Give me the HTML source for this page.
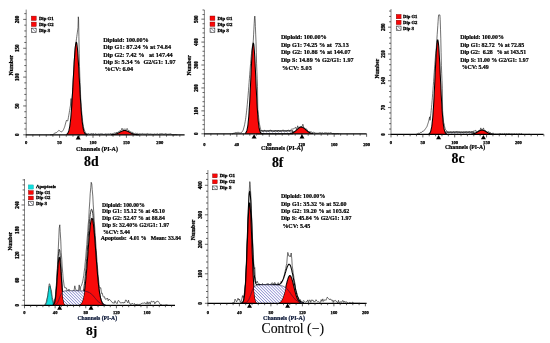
<!DOCTYPE html>
<html><head><meta charset="utf-8"><title>Cell cycle histograms</title>
<style>html,body{margin:0;padding:0;background:#fff;}svg{display:block;filter:blur(0.2px);}text{font-family:"Liberation Serif",serif;}</style></head>
<body>
<svg width="550" height="343" viewBox="0 0 550 343">
<defs><pattern id="hat" width="2.1" height="2.1" patternUnits="userSpaceOnUse" patternTransform="rotate(-45)"><rect width="2.1" height="2.1" fill="#fff"/><rect width="0.6" height="2.1" fill="#6a6ac4"/></pattern><pattern id="hatl" width="2.1" height="2.1" patternUnits="userSpaceOnUse" patternTransform="rotate(-45)"><rect width="2.1" height="2.1" fill="#fff"/><rect width="0.45" height="2.1" fill="#99b"/></pattern><pattern id="hatg" width="2.3" height="2.3" patternUnits="userSpaceOnUse" patternTransform="rotate(-45)"><rect width="2.3" height="2.3" fill="#fff"/><rect width="0.55" height="2.3" fill="#667"/></pattern></defs>
<rect width="550" height="343" fill="#fff"/>
<g>
<path d="M82 134.8 H118 V133.8 H82Z" fill="url(#hatl)"/>
<path d="M50 134.8 50.8 134.8 51.5 134.7 52.2 134.8 53 134.8 53.8 133.6 54.5 133.3 55.2 132.7 56 133.2 56.8 132.2 57 132 57.3 131.9 57.6 131.6 57.9 131.3 58.2 130.9 58.5 130.6 58.8 130.3 59.1 130.4 59.4 130.6 59.7 130.8 60 131.1 60.3 131.3 60.6 131.5 60.9 131.6 61.2 131.7 61.5 131.9 61.8 131.9 62.1 131.5 62.4 131.2 62.7 130.8 63 130.4 63.3 130 63.6 129.4 63.9 128.7 64.2 127.9 64.5 127.2 64.8 126.3 65.1 125.2 65.4 124.1 65.7 123 66 121.9 66.3 120.9 66.6 120.1 66.9 120.4 67.2 120.8 67.5 121.1 67.8 120.6 68.1 119.1 68.4 117.5 68.7 115.8 69 114.1 69.3 112.3 69.6 110.5 69.9 108.7 70.2 106.9 70.5 105.1 70.8 101.9 71.1 98.5 71.4 110 71.7 105.9 72 101.3 72.3 96.5 72.6 91.4 72.9 86 73.2 80.5 73.5 75 73.8 69.6 74.1 64.3 74.4 59.4 74.7 54.9 75 50.9 75.3 47.6 75.6 45.1 75.9 43.3 76.2 40.9 76.5 38.7 76.8 36.5 77.1 34.3 77.4 32.1 77.7 29.9 78 27.7 78.3 16.8 78.6 19.4 78.9 36.6 79.2 53.3 79.5 66.3 79.8 76.1 80.1 82.7 80.4 89.3 80.7 98.1 81 102.6 81.3 106.8 81.6 110.7 81.9 114.2 82.2 117.4 82.5 120.2 82.8 122.7 83.1 124.8 83.4 126.6 83.7 128.2 84 128.6 84.3 129.7 84.6 130.6 84.9 131.3 85.2 131.9 85.5 132.4 86.3 133.6 87 133.9 87.8 133.8 88.5 133.5 89.3 134.2 90 134.1 90.8 133.8 91.5 133.5 92.3 133.8 93 134 93.8 133.5 94.5 134.3 95.3 133.6 96 134.1 96.8 134.2 97.5 134.2 98.3 134.1 99 133.6 99.8 134.2 100.5 133.8 101.3 133.8 102 134 102.8 133.9 103.5 134.3 104.3 134.3 105 134.2 105.8 133.7 106.5 134 107.3 134.1 108 133.8 108.8 133.9 109.5 134 110.3 133.6 111 133.6 111.8 134 112.5 133.6 113.3 133.5 114 133 114.8 133 115.5 133.3 116.3 132.2 117 133 117.8 132.1 118.1 132 118.4 131.8 118.7 131.6 119 131.5 119.3 131.3 119.6 131.1 119.9 130.9 120.2 130.8 120.5 130.6 120.8 130.4 121.1 130.3 121.4 130.1 121.7 129.2 122 128.2 122.3 128.9 122.6 129.6 122.9 129.5 123.2 129.4 123.5 129.3 123.8 129.3 124.1 129.2 124.4 129.2 124.7 129.2 125 129.2 125.3 129.2 125.6 129.3 125.9 129.4 126.2 129.4 126.5 129.5 126.8 129.1 127.1 128.4 127.4 128.8 127.7 129.8 128 130.2 128.3 130.4 128.6 130.5 128.9 130.7 129.2 130.9 129.5 131 129.8 131.2 130.1 131.4 130.4 131.6 130.7 131.7 131 131.9 131.3 132.1 131.6 132.3 132.3 132.2 133.1 133.3 133.8 133.1 134.6 133.8 135.3 133.3 136.1 133.3 136.8 133.6 137.6 133.4 138.3 134 139.1 133.7 139.8 133.8 140.6 133.8 141.3 133.9 142.1 133.6 142.8 133.5 143.6 133.9 144.3 133.8 145.1 134.3 145.8 133.7 146.6 133.8 147.3 133.5 148.1 133.6 148.8 134.1 149.6 134 150.3 133.8 151.1 134.3 151.8 133.9 152.6 134.2 153.3 134.2 154.1 134.3 154.8 133.7 155.6 134.2 156.3 134.1 157.1 134 157.8 133.6 158.6 134.3 159.3 133.9 160.1 133.9 160.8 133.6 161.6 133.6 162.3 133.6 163.1 134.1 163.8 134 164.6 134 165.3 133.6 166.1 133.5 166.8 134.2 167.6 134.2 168.3 134.1 169.1 134.1 169.8 133.9 170.6 133.8 171.3 134.1 172.1 134.8 172.8 134.8 173.6 134.8 174.3 134.8 175.1 134.5 175.8 134.7 176.6 134.8 177.3 134.7" fill="none" stroke="#111" stroke-width="0.6" stroke-linejoin="round"/>
<path d="M66.5 134.8 66.5 134.4 66.8 134.2 67 134 67.2 133.8 67.5 133.5 67.8 133.2 68 132.8 68.2 132.3 68.5 131.7 68.8 130.9 69 130 69.2 129 69.5 127.7 69.8 126.3 70 124.6 70.2 122.7 70.5 120.5 70.8 118.1 71 115.4 71.2 112.4 71.5 109.1 71.8 105.5 72 101.7 72.2 97.6 72.5 93.3 72.8 88.9 73 84.3 73.2 79.6 73.5 75 73.8 70.3 74 65.9 74.2 61.6 74.5 57.5 74.8 53.9 75 50.6 75.2 47.8 75.5 45.5 75.8 43.8 76 42.8 76.2 42.3 76.5 42.5 76.8 43.3 77 44.8 77.2 46.8 77.5 49.4 77.8 52.5 78 56 78.2 59.9 78.5 64.1 78.8 68.5 79 73.1 79.2 77.8 79.5 82.4 79.8 87.1 80 91.6 80.2 95.9 80.5 100.1 80.8 104 81 107.7 81.2 111.1 81.5 114.2 81.8 117 82 119.6 82.2 121.9 82.5 123.9 82.8 125.6 83 127.2 83.2 128.5 83.5 129.6 83.8 130.6 84 131.4 84.2 132 84.5 132.6 84.8 133 85 133.4 85.2 133.7 85.5 134 85.8 134.2 86 134.3 86.2 134.4 86.5 134.5 86.8 134.6 87 134.6 87.2 134.7 87.5 134.7 87.5 134.8Z" fill="#f80a0a" stroke="none"/>
<path d="M66.5 134.4 66.8 134.2 67 134 67.2 133.8 67.5 133.5 67.8 133.2 68 132.8 68.2 132.3 68.5 131.7 68.8 130.9 69 130 69.2 129 69.5 127.7 69.8 126.3 70 124.6 70.2 122.7 70.5 120.5 70.8 118.1 71 115.4 71.2 112.4 71.5 109.1 71.8 105.5 72 101.7 72.2 97.6 72.5 93.3 72.8 88.9 73 84.3 73.2 79.6 73.5 75 73.8 70.3 74 65.9 74.2 61.6 74.5 57.5 74.8 53.9 75 50.6 75.2 47.8 75.5 45.5 75.8 43.8 76 42.8 76.2 42.3 76.5 42.5 76.8 43.3 77 44.8 77.2 46.8 77.5 49.4 77.8 52.5 78 56 78.2 59.9 78.5 64.1 78.8 68.5 79 73.1 79.2 77.8 79.5 82.4 79.8 87.1 80 91.6 80.2 95.9 80.5 100.1 80.8 104 81 107.7 81.2 111.1 81.5 114.2 81.8 117 82 119.6 82.2 121.9 82.5 123.9 82.8 125.6 83 127.2 83.2 128.5 83.5 129.6 83.8 130.6 84 131.4 84.2 132 84.5 132.6 84.8 133 85 133.4 85.2 133.7 85.5 134 85.8 134.2 86 134.3 86.2 134.4 86.5 134.5 86.8 134.6 87 134.6 87.2 134.7 87.5 134.7" fill="none" stroke="#000" stroke-width="1.05" stroke-linejoin="round"/>
<path d="M111 134.8 111 134.7 111.2 134.7 111.5 134.7 111.8 134.7 112 134.7 112.2 134.6 112.5 134.6 112.8 134.6 113 134.6 113.2 134.5 113.5 134.5 113.8 134.5 114 134.4 114.2 134.4 114.5 134.3 114.8 134.3 115 134.2 115.2 134.2 115.5 134.1 115.8 134 116 133.9 116.2 133.9 116.5 133.8 116.8 133.7 117 133.6 117.2 133.5 117.5 133.4 117.8 133.2 118 133.1 118.2 133 118.5 132.9 118.8 132.8 119 132.6 119.2 132.5 119.5 132.4 119.8 132.2 120 132.1 120.2 131.9 120.5 131.8 120.8 131.7 121 131.6 121.2 131.4 121.5 131.3 121.8 131.2 122 131.1 122.2 131 122.5 130.9 122.8 130.8 123 130.7 123.2 130.7 123.5 130.6 123.8 130.6 124 130.5 124.2 130.5 124.5 130.5 124.8 130.5 125 130.5 125.2 130.5 125.5 130.6 125.8 130.6 126 130.7 126.2 130.7 126.5 130.8 126.8 130.9 127 131 127.2 131.1 127.5 131.2 127.8 131.3 128 131.5 128.2 131.6 128.5 131.7 128.8 131.8 129 132 129.2 132.1 129.5 132.2 129.8 132.4 130 132.5 130.2 132.6 130.5 132.8 130.8 132.9 131 133 131.2 133.2 131.5 133.3 131.8 133.4 132 133.5 132.2 133.6 132.5 133.7 132.8 133.8 133 133.9 133.2 134 133.5 134 133.8 134.1 134 134.2 134.2 134.2 134.5 134.3 134.8 134.3 135 134.4 135.2 134.4 135.5 134.5 135.8 134.5 136 134.5 136.2 134.6 136.5 134.6 136.8 134.6 137 134.6 137.2 134.7 137.5 134.7 137.8 134.7 138 134.7 138.2 134.7 138.5 134.7 138.8 134.7 139 134.8 139 134.8Z" fill="#f80a0a" stroke="none"/>
<path d="M111 134.7 111.2 134.7 111.5 134.7 111.8 134.7 112 134.7 112.2 134.6 112.5 134.6 112.8 134.6 113 134.6 113.2 134.5 113.5 134.5 113.8 134.5 114 134.4 114.2 134.4 114.5 134.3 114.8 134.3 115 134.2 115.2 134.2 115.5 134.1 115.8 134 116 133.9 116.2 133.9 116.5 133.8 116.8 133.7 117 133.6 117.2 133.5 117.5 133.4 117.8 133.2 118 133.1 118.2 133 118.5 132.9 118.8 132.8 119 132.6 119.2 132.5 119.5 132.4 119.8 132.2 120 132.1 120.2 131.9 120.5 131.8 120.8 131.7 121 131.6 121.2 131.4 121.5 131.3 121.8 131.2 122 131.1 122.2 131 122.5 130.9 122.8 130.8 123 130.7 123.2 130.7 123.5 130.6 123.8 130.6 124 130.5 124.2 130.5 124.5 130.5 124.8 130.5 125 130.5 125.2 130.5 125.5 130.6 125.8 130.6 126 130.7 126.2 130.7 126.5 130.8 126.8 130.9 127 131 127.2 131.1 127.5 131.2 127.8 131.3 128 131.5 128.2 131.6 128.5 131.7 128.8 131.8 129 132 129.2 132.1 129.5 132.2 129.8 132.4 130 132.5 130.2 132.6 130.5 132.8 130.8 132.9 131 133 131.2 133.2 131.5 133.3 131.8 133.4 132 133.5 132.2 133.6 132.5 133.7 132.8 133.8 133 133.9 133.2 134 133.5 134 133.8 134.1 134 134.2 134.2 134.2 134.5 134.3 134.8 134.3 135 134.4 135.2 134.4 135.5 134.5 135.8 134.5 136 134.5 136.2 134.6 136.5 134.6 136.8 134.6 137 134.6 137.2 134.7 137.5 134.7 137.8 134.7 138 134.7 138.2 134.7 138.5 134.7 138.8 134.7 139 134.8" fill="none" stroke="#000" stroke-width="1.05" stroke-linejoin="round"/>
<path d="M26.2 9.6V134.8" fill="none" stroke="#666" stroke-width="0.8"/>
<path d="M25.8 134.8H184.6" fill="none" stroke="#000" stroke-width="1.25"/>
<text x="26.2" y="144.1" font-size="4.6" font-family="Liberation Serif, serif" font-weight="bold" text-anchor="middle" fill="#000" stroke="#000" stroke-width="0.25" xml:space="preserve">0</text>
<text x="59.6" y="144.1" font-size="4.6" font-family="Liberation Serif, serif" font-weight="bold" text-anchor="middle" fill="#000" stroke="#000" stroke-width="0.25" xml:space="preserve">50</text>
<text x="93" y="144.1" font-size="4.6" font-family="Liberation Serif, serif" font-weight="bold" text-anchor="middle" fill="#000" stroke="#000" stroke-width="0.25" xml:space="preserve">100</text>
<text x="126.4" y="144.1" font-size="4.6" font-family="Liberation Serif, serif" font-weight="bold" text-anchor="middle" fill="#000" stroke="#000" stroke-width="0.25" xml:space="preserve">150</text>
<text x="159.8" y="144.1" font-size="4.6" font-family="Liberation Serif, serif" font-weight="bold" text-anchor="middle" fill="#000" stroke="#000" stroke-width="0.25" xml:space="preserve">200</text>
<text x="18.7" y="134.8" font-size="5.1" font-family="Liberation Serif, serif" font-weight="bold" text-anchor="middle" fill="#000" transform="rotate(-90 18.7 134.8)" stroke="#000" stroke-width="0.3" xml:space="preserve">0</text>
<text x="18.7" y="105.95" font-size="5.1" font-family="Liberation Serif, serif" font-weight="bold" text-anchor="middle" fill="#000" transform="rotate(-90 18.7 105.95)" stroke="#000" stroke-width="0.3" xml:space="preserve">50</text>
<text x="18.7" y="77.1" font-size="5.1" font-family="Liberation Serif, serif" font-weight="bold" text-anchor="middle" fill="#000" transform="rotate(-90 18.7 77.1)" stroke="#000" stroke-width="0.3" xml:space="preserve">100</text>
<text x="18.7" y="48.25" font-size="5.1" font-family="Liberation Serif, serif" font-weight="bold" text-anchor="middle" fill="#000" transform="rotate(-90 18.7 48.25)" stroke="#000" stroke-width="0.3" xml:space="preserve">150</text>
<text x="18.7" y="19.4" font-size="5.1" font-family="Liberation Serif, serif" font-weight="bold" text-anchor="middle" fill="#000" transform="rotate(-90 18.7 19.4)" stroke="#000" stroke-width="0.3" xml:space="preserve">200</text>
<path d="M26.2 134.8v3M32.88 134.8v1.9M39.56 134.8v1.9M46.24 134.8v1.9M52.92 134.8v1.9M59.6 134.8v3M66.28 134.8v1.9M72.96 134.8v1.9M79.64 134.8v1.9M86.32 134.8v1.9M93 134.8v3M99.68 134.8v1.9M106.36 134.8v1.9M113.04 134.8v1.9M119.72 134.8v1.9M126.4 134.8v3M133.08 134.8v1.9M139.76 134.8v1.9M146.44 134.8v1.9M153.12 134.8v1.9M159.8 134.8v3M166.48 134.8v1.9M173.16 134.8v1.9M179.84 134.8v1.9M26.2 134.8h-3M26.2 129.03h-1.9M26.2 123.26h-1.9M26.2 117.49h-1.9M26.2 111.72h-1.9M26.2 105.95h-3M26.2 100.18h-1.9M26.2 94.41h-1.9M26.2 88.64h-1.9M26.2 82.87h-1.9M26.2 77.1h-3M26.2 71.33h-1.9M26.2 65.56h-1.9M26.2 59.79h-1.9M26.2 54.02h-1.9M26.2 48.25h-3M26.2 42.48h-1.9M26.2 36.71h-1.9M26.2 30.94h-1.9M26.2 25.17h-1.9M26.2 19.4h-3M26.2 13.63h-1.9" fill="none" stroke="#222" stroke-width="0.7"/>
<text x="12.7" y="65.2" font-size="5.8" font-family="Liberation Serif, serif" font-weight="bold" text-anchor="middle" fill="#000" transform="rotate(-90 12.7 65.2)" stroke="#000" stroke-width="0.25" xml:space="preserve">Number</text>
<text x="97" y="150.8" font-size="6" font-family="Liberation Serif, serif" font-weight="bold" text-anchor="middle" fill="#000" stroke="#000" stroke-width="0.22" xml:space="preserve">Channels (PI-A)</text>
<rect x="31.3" y="16.1" width="4.9" height="4.4" fill="#fb0606" stroke="#700" stroke-width="0.4"/>
<text x="38.9" y="19.95" font-size="4.8" font-family="Liberation Serif, serif" font-weight="bold" text-anchor="start" fill="#000" stroke="#000" stroke-width="0.3" xml:space="preserve">Dip G1</text>
<rect x="31.3" y="22.1" width="4.9" height="4.4" fill="#fb0606" stroke="#700" stroke-width="0.4"/>
<text x="38.9" y="25.95" font-size="4.8" font-family="Liberation Serif, serif" font-weight="bold" text-anchor="start" fill="#000" stroke="#000" stroke-width="0.3" xml:space="preserve">Dip G2</text>
<rect x="31.35" y="28.15" width="4.8" height="4.3" fill="url(#hatg)" stroke="#222" stroke-width="0.55"/>
<text x="38.9" y="31.95" font-size="4.8" font-family="Liberation Serif, serif" font-weight="bold" text-anchor="start" fill="#000" stroke="#000" stroke-width="0.3" xml:space="preserve">Dip S</text>
<text x="103.2" y="42.18" font-size="6.2" font-family="Liberation Serif, serif" font-weight="bold" text-anchor="start" fill="#000" textLength="45.5" lengthAdjust="spacing" stroke="#000" stroke-width="0.2" xml:space="preserve">Diploid: 100.00%</text>
<text x="103.2" y="49.45" font-size="6.2" font-family="Liberation Serif, serif" font-weight="bold" text-anchor="start" fill="#000" textLength="67.8" lengthAdjust="spacing" stroke="#000" stroke-width="0.2" xml:space="preserve">Dip G1: 87.24 % at 74.84</text>
<text x="103.2" y="56.72" font-size="6.2" font-family="Liberation Serif, serif" font-weight="bold" text-anchor="start" fill="#000" textLength="69.5" lengthAdjust="spacing" stroke="#000" stroke-width="0.2" xml:space="preserve">Dip G2: 7.42 %   at 147.44</text>
<text x="103.2" y="63.99" font-size="6.2" font-family="Liberation Serif, serif" font-weight="bold" text-anchor="start" fill="#000" textLength="72.4" lengthAdjust="spacing" stroke="#000" stroke-width="0.2" xml:space="preserve">Dip S: 5.34 %  G2/G1: 1.97</text>
<text x="104.4" y="71.26" font-size="6.2" font-family="Liberation Serif, serif" font-weight="bold" text-anchor="start" fill="#000" textLength="28.8" lengthAdjust="spacing" stroke="#000" stroke-width="0.2" xml:space="preserve">%CV: 6.04</text>
<path d="M78.2 135.1l-2.5 4.3h5z" fill="#000"/>
<text x="91.4" y="166" font-size="13.8" font-family="Liberation Serif, serif" font-weight="bold" text-anchor="middle" fill="#000" stroke="#000" stroke-width="0.15" xml:space="preserve">8d</text>
<path d="M257 133.8 H293 V130.9 H257Z" fill="url(#hatl)" stroke="#000" stroke-width="0.9"/>
<path d="M232 133.7 232.8 133.8 233.5 133.3 234.2 133.2 235 132.8 235.8 132.4 236.5 132.5 237.2 132.3 238 132.6 238.8 132.2 239.5 132.9 240.2 133 241 132.7 241.8 132.3 242.5 131.2 243.2 130.1 244 127.1 244.3 126 244.6 124.6 244.9 123.1 245.2 121.5 245.5 119.6 245.8 117.6 246.1 115.3 246.4 112.9 246.7 110.2 247 107.3 247.3 104.3 247.6 101 247.9 97.6 248.2 94 248.5 90.3 248.8 86.4 249.1 82.5 249.4 78.6 249.7 74.7 250 70.8 250.3 67 250.6 63.3 250.9 59.8 251.2 56.5 251.5 53.5 251.8 50.8 252.1 48.4 252.4 46.4 252.7 44.9 253 43.7 253.3 40.4 253.6 34.8 253.9 29.2 254.2 23.6 254.5 18 254.8 16.1 255.1 18.7 255.4 26.4 255.7 34.1 256 41.8 256.3 52.8 256.6 63.8 256.9 71.3 257.2 78.8 257.5 86.3 257.8 109.6 258.1 110.9 258.4 114.7 258.7 117.9 259 120.6 259.3 122.9 259.6 124.7 259.9 126.2 260.2 127.3 260.5 128.3 260.8 129.7 261.6 130.6 262.3 131.1 263.1 130.9 263.8 131.5 264.6 130.2 265.3 130.6 266.1 131.4 266.8 131.2 267.6 131 268.3 131 269.1 131.4 269.8 130.2 270.6 130 271.3 130.9 272.1 130.8 272.8 131.5 273.6 131.4 274.3 131.1 275.1 131.2 275.8 130.3 276.6 131.3 277.3 131.6 278.1 130.1 278.8 130.8 279.6 131.4 280.3 130.7 281.1 131.6 281.8 130.8 282.6 130 283.3 130.2 284.1 130.5 284.8 131.2 285.6 131 286.3 131.3 287.1 130.3 287.8 130.6 288.6 130.2 289.3 130.8 290.1 130.8 290.8 129.7 291.6 129.2 292.3 129.1 293.1 128.8 293.8 128.8 294.1 128.6 294.4 128.3 294.7 128.1 295 127.9 295.3 127.6 295.6 127.3 295.9 127.1 296.2 129.3 297 128.7 297.7 125.8 298 126.7 298.3 127.6 298.6 127.7 298.9 127.5 299.2 127.3 299.5 127.1 299.8 127 300.1 126.8 300.4 126.7 300.7 126.7 301 126.6 301.3 126.6 301.6 126.6 301.9 126.7 302.2 126.3 302.5 125.2 302.8 124.2 303.1 124.7 303.4 126.1 303.7 127.5 304 127.7 304.3 127.9 304.6 128.2 304.9 128.4 305.2 128.7 305.5 129.4 306.3 128.8 307 129.8 307.8 130.9 308.5 131.5 309.3 131.6 310 132 310.8 131.8 311.5 131.8 312.3 132.6 313 132.3 313.8 132.3 314.5 132.5 315.3 133 316 133.2 316.8 133.2 317.5 133.2 318.3 133.2 319 132.9 319.8 132.7 320.5 132.7 321.3 133 322 132.9 322.8 132.7 323.5 133.3 324.3 132.9 325 132.7 325.8 132.8 326.5 132.8 327.3 133 328 133.3 328.8 132.8 329.5 133.1 330.3 132.7 331 132.6 331.8 133.1 332.5 133.8 333.3 133.5 334 133.7 334.8 133.8 335.5 133.8 336.3 133.8 337 133.6 337.8 133.6 338.5 133.8 339.3 133.6" fill="none" stroke="#111" stroke-width="0.6" stroke-linejoin="round"/>
<path d="M245 133.8 245 133.4 245.2 133.3 245.5 133.1 245.8 132.9 246 132.5 246.2 132.1 246.5 131.6 246.8 130.9 247 130 247.2 128.9 247.5 127.6 247.8 126.1 248 124.2 248.2 122 248.5 119.4 248.8 116.5 249 113.1 249.2 109.4 249.5 105.2 249.8 100.7 250 95.8 250.2 90.7 250.5 85.3 250.8 79.8 251 74.3 251.2 68.9 251.5 63.7 251.8 58.9 252 54.5 252.2 50.7 252.5 47.5 252.8 45.2 253 43.7 253.2 43 253.5 43.3 253.8 44.5 254 46.5 254.2 49.3 254.5 52.9 254.8 57.1 255 61.7 255.2 66.8 255.5 72.2 255.8 77.6 256 83.1 256.2 88.5 256.5 93.8 256.8 98.8 257 103.4 257.2 107.7 257.5 111.7 257.8 115.2 258 118.3 258.2 121 258.5 123.4 258.8 125.4 259 127.1 259.2 128.5 259.5 129.6 259.8 130.5 260 131.3 260.2 131.9 260.5 132.4 260.8 132.7 261 133 261.2 133.2 261.5 133.4 261.8 133.5 262 133.6 262.2 133.7 262.5 133.7 262.8 133.7 263 133.8 263 133.8Z" fill="#f80a0a" stroke="none"/>
<path d="M245 133.4 245.2 133.3 245.5 133.1 245.8 132.9 246 132.5 246.2 132.1 246.5 131.6 246.8 130.9 247 130 247.2 128.9 247.5 127.6 247.8 126.1 248 124.2 248.2 122 248.5 119.4 248.8 116.5 249 113.1 249.2 109.4 249.5 105.2 249.8 100.7 250 95.8 250.2 90.7 250.5 85.3 250.8 79.8 251 74.3 251.2 68.9 251.5 63.7 251.8 58.9 252 54.5 252.2 50.7 252.5 47.5 252.8 45.2 253 43.7 253.2 43 253.5 43.3 253.8 44.5 254 46.5 254.2 49.3 254.5 52.9 254.8 57.1 255 61.7 255.2 66.8 255.5 72.2 255.8 77.6 256 83.1 256.2 88.5 256.5 93.8 256.8 98.8 257 103.4 257.2 107.7 257.5 111.7 257.8 115.2 258 118.3 258.2 121 258.5 123.4 258.8 125.4 259 127.1 259.2 128.5 259.5 129.6 259.8 130.5 260 131.3 260.2 131.9 260.5 132.4 260.8 132.7 261 133 261.2 133.2 261.5 133.4 261.8 133.5 262 133.6 262.2 133.7 262.5 133.7 262.8 133.7 263 133.8" fill="none" stroke="#000" stroke-width="1.05" stroke-linejoin="round"/>
<path d="M290 133.8 290 133.5 290.2 133.5 290.5 133.4 290.8 133.4 291 133.3 291.2 133.2 291.5 133.2 291.8 133.1 292 133 292.2 132.9 292.5 132.8 292.8 132.7 293 132.6 293.2 132.4 293.5 132.3 293.8 132.2 294 132 294.2 131.8 294.5 131.7 294.8 131.5 295 131.3 295.2 131.1 295.5 130.9 295.8 130.7 296 130.5 296.2 130.2 296.5 130 296.8 129.8 297 129.6 297.2 129.3 297.5 129.1 297.8 128.9 298 128.7 298.2 128.5 298.5 128.3 298.8 128.1 299 127.9 299.2 127.8 299.5 127.6 299.8 127.5 300 127.4 300.2 127.3 300.5 127.2 300.8 127.1 301 127.1 301.2 127.1 301.5 127.1 301.8 127.1 302 127.2 302.2 127.2 302.5 127.3 302.8 127.4 303 127.6 303.2 127.7 303.5 127.9 303.8 128 304 128.2 304.2 128.4 304.5 128.6 304.8 128.8 305 129 305.2 129.2 305.5 129.5 305.8 129.7 306 129.9 306.2 130.1 306.5 130.4 306.8 130.6 307 130.8 307.2 131 307.5 131.2 307.8 131.4 308 131.6 308.2 131.8 308.5 131.9 308.8 132.1 309 132.3 309.2 132.4 309.5 132.5 309.8 132.7 310 132.8 310.2 132.9 310.5 133 310.8 133.1 311 133.1 311.2 133.2 311.5 133.3 311.8 133.3 312 133.4 312.2 133.5 312.5 133.5 312.8 133.5 313 133.6 313 133.8Z" fill="#f80a0a" stroke="none"/>
<path d="M290 133.5 290.2 133.5 290.5 133.4 290.8 133.4 291 133.3 291.2 133.2 291.5 133.2 291.8 133.1 292 133 292.2 132.9 292.5 132.8 292.8 132.7 293 132.6 293.2 132.4 293.5 132.3 293.8 132.2 294 132 294.2 131.8 294.5 131.7 294.8 131.5 295 131.3 295.2 131.1 295.5 130.9 295.8 130.7 296 130.5 296.2 130.2 296.5 130 296.8 129.8 297 129.6 297.2 129.3 297.5 129.1 297.8 128.9 298 128.7 298.2 128.5 298.5 128.3 298.8 128.1 299 127.9 299.2 127.8 299.5 127.6 299.8 127.5 300 127.4 300.2 127.3 300.5 127.2 300.8 127.1 301 127.1 301.2 127.1 301.5 127.1 301.8 127.1 302 127.2 302.2 127.2 302.5 127.3 302.8 127.4 303 127.6 303.2 127.7 303.5 127.9 303.8 128 304 128.2 304.2 128.4 304.5 128.6 304.8 128.8 305 129 305.2 129.2 305.5 129.5 305.8 129.7 306 129.9 306.2 130.1 306.5 130.4 306.8 130.6 307 130.8 307.2 131 307.5 131.2 307.8 131.4 308 131.6 308.2 131.8 308.5 131.9 308.8 132.1 309 132.3 309.2 132.4 309.5 132.5 309.8 132.7 310 132.8 310.2 132.9 310.5 133 310.8 133.1 311 133.1 311.2 133.2 311.5 133.3 311.8 133.3 312 133.4 312.2 133.5 312.5 133.5 312.8 133.5 313 133.6" fill="none" stroke="#000" stroke-width="1.05" stroke-linejoin="round"/>
<path d="M204.4 10V133.8" fill="none" stroke="#666" stroke-width="0.8"/>
<path d="M204 133.8H366.6" fill="none" stroke="#000" stroke-width="1.25"/>
<text x="204.4" y="145.6" font-size="4.6" font-family="Liberation Serif, serif" font-weight="bold" text-anchor="middle" fill="#000" stroke="#000" stroke-width="0.25" xml:space="preserve">0</text>
<text x="236.84" y="145.6" font-size="4.6" font-family="Liberation Serif, serif" font-weight="bold" text-anchor="middle" fill="#000" stroke="#000" stroke-width="0.25" xml:space="preserve">40</text>
<text x="269.28" y="145.6" font-size="4.6" font-family="Liberation Serif, serif" font-weight="bold" text-anchor="middle" fill="#000" stroke="#000" stroke-width="0.25" xml:space="preserve">80</text>
<text x="301.72" y="145.6" font-size="4.6" font-family="Liberation Serif, serif" font-weight="bold" text-anchor="middle" fill="#000" stroke="#000" stroke-width="0.25" xml:space="preserve">120</text>
<text x="334.16" y="145.6" font-size="4.6" font-family="Liberation Serif, serif" font-weight="bold" text-anchor="middle" fill="#000" stroke="#000" stroke-width="0.25" xml:space="preserve">160</text>
<text x="366.6" y="145.6" font-size="4.6" font-family="Liberation Serif, serif" font-weight="bold" text-anchor="middle" fill="#000" stroke="#000" stroke-width="0.25" xml:space="preserve">200</text>
<text x="198.1" y="133.8" font-size="5.1" font-family="Liberation Serif, serif" font-weight="bold" text-anchor="middle" fill="#000" transform="rotate(-90 198.1 133.8)" stroke="#000" stroke-width="0.3" xml:space="preserve">0</text>
<text x="198.1" y="110.87" font-size="5.1" font-family="Liberation Serif, serif" font-weight="bold" text-anchor="middle" fill="#000" transform="rotate(-90 198.1 110.87)" stroke="#000" stroke-width="0.3" xml:space="preserve">100</text>
<text x="198.1" y="87.94" font-size="5.1" font-family="Liberation Serif, serif" font-weight="bold" text-anchor="middle" fill="#000" transform="rotate(-90 198.1 87.94)" stroke="#000" stroke-width="0.3" xml:space="preserve">200</text>
<text x="198.1" y="65.01" font-size="5.1" font-family="Liberation Serif, serif" font-weight="bold" text-anchor="middle" fill="#000" transform="rotate(-90 198.1 65.01)" stroke="#000" stroke-width="0.3" xml:space="preserve">300</text>
<text x="198.1" y="42.08" font-size="5.1" font-family="Liberation Serif, serif" font-weight="bold" text-anchor="middle" fill="#000" transform="rotate(-90 198.1 42.08)" stroke="#000" stroke-width="0.3" xml:space="preserve">400</text>
<text x="198.1" y="19.15" font-size="5.1" font-family="Liberation Serif, serif" font-weight="bold" text-anchor="middle" fill="#000" transform="rotate(-90 198.1 19.15)" stroke="#000" stroke-width="0.3" xml:space="preserve">500</text>
<path d="M204.4 133.8v3M210.89 133.8v1.9M217.38 133.8v1.9M223.86 133.8v1.9M230.35 133.8v1.9M236.84 133.8v3M243.33 133.8v1.9M249.82 133.8v1.9M256.3 133.8v1.9M262.79 133.8v1.9M269.28 133.8v3M275.77 133.8v1.9M282.26 133.8v1.9M288.74 133.8v1.9M295.23 133.8v1.9M301.72 133.8v3M308.21 133.8v1.9M314.7 133.8v1.9M321.18 133.8v1.9M327.67 133.8v1.9M334.16 133.8v3M340.65 133.8v1.9M347.14 133.8v1.9M353.62 133.8v1.9M360.11 133.8v1.9M366.6 133.8v3M204.4 133.8h-3M204.4 129.21h-1.9M204.4 124.63h-1.9M204.4 120.04h-1.9M204.4 115.46h-1.9M204.4 110.87h-3M204.4 106.28h-1.9M204.4 101.7h-1.9M204.4 97.11h-1.9M204.4 92.53h-1.9M204.4 87.94h-3M204.4 83.35h-1.9M204.4 78.77h-1.9M204.4 74.18h-1.9M204.4 69.6h-1.9M204.4 65.01h-3M204.4 60.42h-1.9M204.4 55.84h-1.9M204.4 51.25h-1.9M204.4 46.67h-1.9M204.4 42.08h-3M204.4 37.49h-1.9M204.4 32.91h-1.9M204.4 28.32h-1.9M204.4 23.74h-1.9M204.4 19.15h-3M204.4 14.56h-1.9M204.4 9.98h-1.9" fill="none" stroke="#222" stroke-width="0.7"/>
<text x="191" y="65.3" font-size="5.7" font-family="Liberation Serif, serif" font-weight="bold" text-anchor="middle" fill="#000" transform="rotate(-90 191 65.3)" stroke="#000" stroke-width="0.25" xml:space="preserve">Number</text>
<text x="282" y="150.3" font-size="6" font-family="Liberation Serif, serif" font-weight="bold" text-anchor="middle" fill="#000" stroke="#000" stroke-width="0.22" xml:space="preserve">Channels (PI-A)</text>
<rect x="210" y="16" width="4.9" height="4.4" fill="#fb0606" stroke="#700" stroke-width="0.4"/>
<text x="217.6" y="19.85" font-size="4.8" font-family="Liberation Serif, serif" font-weight="bold" text-anchor="start" fill="#000" stroke="#000" stroke-width="0.3" xml:space="preserve">Dip G1</text>
<rect x="210" y="22" width="4.9" height="4.4" fill="#fb0606" stroke="#700" stroke-width="0.4"/>
<text x="217.6" y="25.85" font-size="4.8" font-family="Liberation Serif, serif" font-weight="bold" text-anchor="start" fill="#000" stroke="#000" stroke-width="0.3" xml:space="preserve">Dip G2</text>
<rect x="210.05" y="28.05" width="4.8" height="4.3" fill="url(#hatg)" stroke="#222" stroke-width="0.55"/>
<text x="217.6" y="31.85" font-size="4.8" font-family="Liberation Serif, serif" font-weight="bold" text-anchor="start" fill="#000" stroke="#000" stroke-width="0.3" xml:space="preserve">Dip S</text>
<text x="280.9" y="39.38" font-size="6.2" font-family="Liberation Serif, serif" font-weight="bold" text-anchor="start" fill="#000" textLength="45.8" lengthAdjust="spacing" stroke="#000" stroke-width="0.2" xml:space="preserve">Diploid: 100.00%</text>
<text x="280.9" y="46.93" font-size="6.2" font-family="Liberation Serif, serif" font-weight="bold" text-anchor="start" fill="#000" textLength="67.9" lengthAdjust="spacing" stroke="#000" stroke-width="0.2" xml:space="preserve">Dip G1: 74.25 % at  73.13</text>
<text x="280.9" y="54.48" font-size="6.2" font-family="Liberation Serif, serif" font-weight="bold" text-anchor="start" fill="#000" textLength="69.8" lengthAdjust="spacing" stroke="#000" stroke-width="0.2" xml:space="preserve">Dip G2: 10.86 % at 144.07</text>
<text x="280.9" y="62.03" font-size="6.2" font-family="Liberation Serif, serif" font-weight="bold" text-anchor="start" fill="#000" textLength="72.7" lengthAdjust="spacing" stroke="#000" stroke-width="0.2" xml:space="preserve">Dip S: 14.89 % G2/G1: 1.97</text>
<text x="282.1" y="69.58" font-size="6.2" font-family="Liberation Serif, serif" font-weight="bold" text-anchor="start" fill="#000" textLength="29.7" lengthAdjust="spacing" stroke="#000" stroke-width="0.2" xml:space="preserve">%CV: 5.03</text>
<path d="M254.1 134.3l-2.5 4.3h5z" fill="#000"/>
<path d="M302 134.3l-2.5 4.3h5z" fill="#000"/>
<text x="277.7" y="166.5" font-size="13.8" font-family="Liberation Serif, serif" font-weight="bold" text-anchor="middle" fill="#000" stroke="#000" stroke-width="0.15" xml:space="preserve">8f</text>
<path d="M444 134.4 H474 V132.1 H444Z" fill="url(#hatl)" stroke="#000" stroke-width="0.9"/>
<path d="M416 134.2 416.8 134.3 417.5 134 418.2 133.1 419 133.4 419.8 133.4 420.5 132.4 421.2 132.5 422 132.1 422.8 131.1 423.5 131.2 424.2 130.2 424.6 129.9 424.9 129.6 425.2 129.2 425.5 128.7 425.8 128.3 426.1 127.9 426.4 127.4 426.7 127 427 126.4 427.3 125.5 427.6 124.6 427.9 123.7 428.2 122.8 428.5 121.8 428.8 120.5 429.1 119.3 429.4 118 429.7 116.8 430 120.3 430.3 118.2 430.6 115.9 430.9 113.3 431.2 110.5 431.5 107.5 431.8 104.3 432.1 100.8 432.4 97.2 432.7 93.4 433 89.5 433.3 85.4 433.6 81.3 433.9 77.1 434.2 72.9 434.5 68.8 434.8 64.7 435.1 60.8 435.4 57.1 435.7 53.7 436 50.5 436.3 47.7 436.6 42.5 436.9 38.7 437.2 34.4 437.5 30 437.8 25.7 438.1 21.4 438.4 17.1 438.7 14.9 439 14.9 439.3 14.9 439.6 14.9 439.9 14.9 440.2 19.7 440.5 29.2 440.8 38.8 441.1 52.4 441.4 65.7 441.7 73.2 442 80.7 442.3 88.2 442.6 110.4 442.9 114.4 443.2 118 443.5 121 443.8 123.7 444.1 123.6 444.4 125.4 444.7 126.9 445 128.1 445.3 129.1 445.6 129.8 445.9 129.9 446.6 130.9 447.4 132.2 448.1 132.3 448.9 132.3 449.6 132.4 450.4 132 451.1 132.4 451.9 132.2 452.6 132.5 453.4 131.6 454.1 132.3 454.9 132.1 455.6 132 456.4 131.6 457.1 132.2 457.9 131.6 458.6 132.1 459.4 132.1 460.1 132.1 460.9 132.7 461.6 132.2 462.4 132.5 463.1 132.7 463.9 131.7 464.6 132.5 465.4 132.1 466.1 131.8 466.9 132 467.6 132.3 468.4 132 469.1 132 469.9 131.6 470.6 132.4 471.4 131.7 472.1 132 472.9 131.8 473.6 130.9 474.4 131 475.1 130.6 475.9 130.3 476.2 132.1 476.9 131.4 477.7 131.5 478.4 130.8 479.2 130.5 479.9 130.2 480.2 130.1 480.5 129 480.8 127.9 481.1 128.8 481.4 129.7 481.7 129.7 482 129.7 482.3 129.7 482.6 129.7 482.9 129.4 483.2 128.3 483.5 128 483.8 129.3 484.1 130.2 484.4 130.3 484.7 130.5 485.5 130.6 486.2 131.4 487 131.8 487.7 132.3 488.5 131.6 489.2 132.3 490 132.4 490.7 132.7 491.5 133.5 492.2 133.4 493 133.2 493.7 133.4 494.5 134 495.2 134 496 133.8 496.7 134.1 497.5 134 498.2 134.1 499 133.7 499.7 133.6 500.5 133.5 501.2 134 502 133.7 502.7 133.7 503.5 134 504.2 133.5 505 133.5 505.7 134 506.5 133.5 507.2 133.9 508 133.8 508.7 133.5 509.5 133.6 510.2 134 511 133.8 511.7 133.8 512.5 133.9 513.2 134 514 133.9 514.7 133.7 515.5 134.1 516.2 133.8 517 133.8 517.7 134.1 518.5 133.9 519.2 133.7 520 133.8 520.7 134.1 521.5 133.5 522.2 134.3 523 134.2 523.7 134.4 524.5 134.4 525.2 134.4 526 134.3 526.7 134.4 527.5 134.4 528.2 134.4 529 134.2 529.7 134.2" fill="none" stroke="#111" stroke-width="0.6" stroke-linejoin="round"/>
<path d="M428.5 134.4 428.5 134.1 428.8 134 429 133.9 429.2 133.7 429.5 133.5 429.8 133.2 430 132.9 430.2 132.4 430.5 131.8 430.8 131.1 431 130.2 431.2 129.2 431.5 127.9 431.8 126.4 432 124.6 432.2 122.4 432.5 120 432.8 117.2 433 114.1 433.2 110.6 433.5 106.7 433.8 102.5 434 98 434.2 93.1 434.5 88.1 434.8 82.8 435 77.5 435.2 72.2 435.5 66.9 435.8 61.9 436 57.1 436.2 52.8 436.5 48.9 436.8 45.7 437 43.1 437.2 41.2 437.5 40.2 437.8 39.9 438 40.5 438.2 41.9 438.5 44 438.8 46.9 439 50.4 439.2 54.5 439.5 59 439.8 63.9 440 69 440.2 74.3 440.5 79.6 440.8 84.9 441 90.1 441.2 95.1 441.5 99.8 441.8 104.2 442 108.3 442.2 112 442.5 115.4 442.8 118.4 443 121 443.2 123.3 443.5 125.3 443.8 127 444 128.4 444.2 129.6 444.5 130.6 444.8 131.4 445 132.1 445.2 132.6 445.5 133 445.8 133.4 446 133.6 446.2 133.8 446.5 134 446.8 134.1 447 134.2 447 134.4Z" fill="#f80a0a" stroke="none"/>
<path d="M428.5 134.1 428.8 134 429 133.9 429.2 133.7 429.5 133.5 429.8 133.2 430 132.9 430.2 132.4 430.5 131.8 430.8 131.1 431 130.2 431.2 129.2 431.5 127.9 431.8 126.4 432 124.6 432.2 122.4 432.5 120 432.8 117.2 433 114.1 433.2 110.6 433.5 106.7 433.8 102.5 434 98 434.2 93.1 434.5 88.1 434.8 82.8 435 77.5 435.2 72.2 435.5 66.9 435.8 61.9 436 57.1 436.2 52.8 436.5 48.9 436.8 45.7 437 43.1 437.2 41.2 437.5 40.2 437.8 39.9 438 40.5 438.2 41.9 438.5 44 438.8 46.9 439 50.4 439.2 54.5 439.5 59 439.8 63.9 440 69 440.2 74.3 440.5 79.6 440.8 84.9 441 90.1 441.2 95.1 441.5 99.8 441.8 104.2 442 108.3 442.2 112 442.5 115.4 442.8 118.4 443 121 443.2 123.3 443.5 125.3 443.8 127 444 128.4 444.2 129.6 444.5 130.6 444.8 131.4 445 132.1 445.2 132.6 445.5 133 445.8 133.4 446 133.6 446.2 133.8 446.5 134 446.8 134.1 447 134.2" fill="none" stroke="#000" stroke-width="1.05" stroke-linejoin="round"/>
<path d="M471 134.4 471 134.2 471.2 134.2 471.5 134.2 471.8 134.1 472 134.1 472.2 134.1 472.5 134 472.8 134 473 133.9 473.2 133.9 473.5 133.8 473.8 133.7 474 133.6 474.2 133.6 474.5 133.5 474.8 133.4 475 133.3 475.2 133.1 475.5 133 475.8 132.9 476 132.8 476.2 132.6 476.5 132.5 476.8 132.4 477 132.2 477.2 132.1 477.5 131.9 477.8 131.8 478 131.6 478.2 131.5 478.5 131.3 478.8 131.2 479 131 479.2 130.9 479.5 130.8 479.8 130.7 480 130.5 480.2 130.4 480.5 130.4 480.8 130.3 481 130.2 481.2 130.2 481.5 130.1 481.8 130.1 482 130.1 482.2 130.1 482.5 130.1 482.8 130.2 483 130.2 483.2 130.3 483.5 130.4 483.8 130.4 484 130.5 484.2 130.7 484.5 130.8 484.8 130.9 485 131 485.2 131.2 485.5 131.3 485.8 131.5 486 131.6 486.2 131.8 486.5 131.9 486.8 132.1 487 132.2 487.2 132.4 487.5 132.5 487.8 132.6 488 132.8 488.2 132.9 488.5 133 488.8 133.1 489 133.3 489.2 133.4 489.5 133.5 489.8 133.6 490 133.6 490.2 133.7 490.5 133.8 490.8 133.9 491 133.9 491.2 134 491.5 134 491.8 134.1 492 134.1 492.2 134.1 492.5 134.2 492.8 134.2 493 134.2 493.2 134.3 493.5 134.3 493.8 134.3 494 134.3 494 134.4Z" fill="#f80a0a" stroke="none"/>
<path d="M471 134.2 471.2 134.2 471.5 134.2 471.8 134.1 472 134.1 472.2 134.1 472.5 134 472.8 134 473 133.9 473.2 133.9 473.5 133.8 473.8 133.7 474 133.6 474.2 133.6 474.5 133.5 474.8 133.4 475 133.3 475.2 133.1 475.5 133 475.8 132.9 476 132.8 476.2 132.6 476.5 132.5 476.8 132.4 477 132.2 477.2 132.1 477.5 131.9 477.8 131.8 478 131.6 478.2 131.5 478.5 131.3 478.8 131.2 479 131 479.2 130.9 479.5 130.8 479.8 130.7 480 130.5 480.2 130.4 480.5 130.4 480.8 130.3 481 130.2 481.2 130.2 481.5 130.1 481.8 130.1 482 130.1 482.2 130.1 482.5 130.1 482.8 130.2 483 130.2 483.2 130.3 483.5 130.4 483.8 130.4 484 130.5 484.2 130.7 484.5 130.8 484.8 130.9 485 131 485.2 131.2 485.5 131.3 485.8 131.5 486 131.6 486.2 131.8 486.5 131.9 486.8 132.1 487 132.2 487.2 132.4 487.5 132.5 487.8 132.6 488 132.8 488.2 132.9 488.5 133 488.8 133.1 489 133.3 489.2 133.4 489.5 133.5 489.8 133.6 490 133.6 490.2 133.7 490.5 133.8 490.8 133.9 491 133.9 491.2 134 491.5 134 491.8 134.1 492 134.1 492.2 134.1 492.5 134.2 492.8 134.2 493 134.2 493.2 134.3 493.5 134.3 493.8 134.3 494 134.3" fill="none" stroke="#000" stroke-width="1.05" stroke-linejoin="round"/>
<path d="M391 9V134.4" fill="none" stroke="#666" stroke-width="0.8"/>
<path d="M390.6 134.4H543.6" fill="none" stroke="#000" stroke-width="1.25"/>
<text x="391" y="144" font-size="4.6" font-family="Liberation Serif, serif" font-weight="bold" text-anchor="middle" fill="#000" stroke="#000" stroke-width="0.25" xml:space="preserve">0</text>
<text x="422.85" y="144" font-size="4.6" font-family="Liberation Serif, serif" font-weight="bold" text-anchor="middle" fill="#000" stroke="#000" stroke-width="0.25" xml:space="preserve">50</text>
<text x="454.7" y="144" font-size="4.6" font-family="Liberation Serif, serif" font-weight="bold" text-anchor="middle" fill="#000" stroke="#000" stroke-width="0.25" xml:space="preserve">100</text>
<text x="486.55" y="144" font-size="4.6" font-family="Liberation Serif, serif" font-weight="bold" text-anchor="middle" fill="#000" stroke="#000" stroke-width="0.25" xml:space="preserve">150</text>
<text x="518.4" y="144" font-size="4.6" font-family="Liberation Serif, serif" font-weight="bold" text-anchor="middle" fill="#000" stroke="#000" stroke-width="0.25" xml:space="preserve">200</text>
<text x="385.5" y="134.4" font-size="5.1" font-family="Liberation Serif, serif" font-weight="bold" text-anchor="middle" fill="#000" transform="rotate(-90 385.5 134.4)" stroke="#000" stroke-width="0.3" xml:space="preserve">0</text>
<text x="385.5" y="107.59" font-size="5.1" font-family="Liberation Serif, serif" font-weight="bold" text-anchor="middle" fill="#000" transform="rotate(-90 385.5 107.59)" stroke="#000" stroke-width="0.3" xml:space="preserve">70</text>
<text x="385.5" y="80.78" font-size="5.1" font-family="Liberation Serif, serif" font-weight="bold" text-anchor="middle" fill="#000" transform="rotate(-90 385.5 80.78)" stroke="#000" stroke-width="0.3" xml:space="preserve">140</text>
<text x="385.5" y="53.97" font-size="5.1" font-family="Liberation Serif, serif" font-weight="bold" text-anchor="middle" fill="#000" transform="rotate(-90 385.5 53.97)" stroke="#000" stroke-width="0.3" xml:space="preserve">210</text>
<text x="385.5" y="27.16" font-size="5.1" font-family="Liberation Serif, serif" font-weight="bold" text-anchor="middle" fill="#000" transform="rotate(-90 385.5 27.16)" stroke="#000" stroke-width="0.3" xml:space="preserve">280</text>
<path d="M391 134.4v3M397.37 134.4v1.9M403.74 134.4v1.9M410.11 134.4v1.9M416.48 134.4v1.9M422.85 134.4v3M429.22 134.4v1.9M435.59 134.4v1.9M441.96 134.4v1.9M448.33 134.4v1.9M454.7 134.4v3M461.07 134.4v1.9M467.44 134.4v1.9M473.81 134.4v1.9M480.18 134.4v1.9M486.55 134.4v3M492.92 134.4v1.9M499.29 134.4v1.9M505.66 134.4v1.9M512.03 134.4v1.9M518.4 134.4v3M524.77 134.4v1.9M531.14 134.4v1.9M537.51 134.4v1.9M543.88 134.4v1.9M391 134.4h-3M391 129.04h-1.9M391 123.68h-1.9M391 118.31h-1.9M391 112.95h-1.9M391 107.59h-3M391 102.23h-1.9M391 96.87h-1.9M391 91.5h-1.9M391 86.14h-1.9M391 80.78h-3M391 75.42h-1.9M391 70.06h-1.9M391 64.69h-1.9M391 59.33h-1.9M391 53.97h-3M391 48.61h-1.9M391 43.25h-1.9M391 37.88h-1.9M391 32.52h-1.9M391 27.16h-3M391 21.8h-1.9M391 16.44h-1.9M391 11.07h-1.9" fill="none" stroke="#222" stroke-width="0.7"/>
<text x="379.2" y="68.6" font-size="5.6" font-family="Liberation Serif, serif" font-weight="bold" text-anchor="middle" fill="#000" transform="rotate(-90 379.2 68.6)" stroke="#000" stroke-width="0.25" xml:space="preserve">Number</text>
<text x="465" y="148.9" font-size="5.75" font-family="Liberation Serif, serif" font-weight="bold" text-anchor="middle" fill="#000" stroke="#000" stroke-width="0.22" xml:space="preserve">Channels (PI-A)</text>
<rect x="396.2" y="14.4" width="4.9" height="4.4" fill="#fb0606" stroke="#700" stroke-width="0.4"/>
<text x="403.1" y="18.25" font-size="4.6" font-family="Liberation Serif, serif" font-weight="bold" text-anchor="start" fill="#000" stroke="#000" stroke-width="0.3" xml:space="preserve">Dip G1</text>
<rect x="396.2" y="20.2" width="4.9" height="4.4" fill="#fb0606" stroke="#700" stroke-width="0.4"/>
<text x="403.1" y="24.05" font-size="4.6" font-family="Liberation Serif, serif" font-weight="bold" text-anchor="start" fill="#000" stroke="#000" stroke-width="0.3" xml:space="preserve">Dip G2</text>
<rect x="396.25" y="26.05" width="4.8" height="4.3" fill="url(#hatg)" stroke="#222" stroke-width="0.55"/>
<text x="403.1" y="29.85" font-size="4.6" font-family="Liberation Serif, serif" font-weight="bold" text-anchor="start" fill="#000" stroke="#000" stroke-width="0.3" xml:space="preserve">Dip S</text>
<text x="460.2" y="39.28" font-size="5.9" font-family="Liberation Serif, serif" font-weight="bold" text-anchor="start" fill="#000" textLength="43.6" lengthAdjust="spacing" stroke="#000" stroke-width="0.2" xml:space="preserve">Diploid: 100.00%</text>
<text x="460.2" y="46.83" font-size="5.9" font-family="Liberation Serif, serif" font-weight="bold" text-anchor="start" fill="#000" textLength="64" lengthAdjust="spacing" stroke="#000" stroke-width="0.2" xml:space="preserve">Dip G1: 82.72  % at 72.85</text>
<text x="460.2" y="54.38" font-size="5.9" font-family="Liberation Serif, serif" font-weight="bold" text-anchor="start" fill="#000" textLength="65.9" lengthAdjust="spacing" stroke="#000" stroke-width="0.2" xml:space="preserve">Dip G2:  6.28   % at 143.51</text>
<text x="460.2" y="61.93" font-size="5.9" font-family="Liberation Serif, serif" font-weight="bold" text-anchor="start" fill="#000" textLength="68.4" lengthAdjust="spacing" stroke="#000" stroke-width="0.2" xml:space="preserve">Dip S: 11.00 % G2/G1: 1.97</text>
<text x="461.7" y="69.48" font-size="5.9" font-family="Liberation Serif, serif" font-weight="bold" text-anchor="start" fill="#000" textLength="26.9" lengthAdjust="spacing" stroke="#000" stroke-width="0.2" xml:space="preserve">%CV: 5.49</text>
<path d="M438.6 134.9l-2.5 4.3h5z" fill="#000"/>
<path d="M483.4 134.9l-2.5 4.3h5z" fill="#000"/>
<text x="458" y="162.5" font-size="13.8" font-family="Liberation Serif, serif" font-weight="bold" text-anchor="middle" fill="#000" stroke="#000" stroke-width="0.15" xml:space="preserve">8c</text>
<path d="M44 305.3 44.8 305.3 45.5 303.3 46.2 302.3 47 298.4 47.8 295.8 48.5 290.3 49.2 283.8 50 284.4 50.8 289.2 51.5 291.2 52.2 297.6 53 300.2 53.8 304.1 54.5 299.7 55.2 298.9 56 288.4 56.8 279 57.2 270.3 57.8 261.1 58.2 250 58.8 237.9 59.2 228.3 59.8 224.8 60.2 231.6 60.8 241.1 61.2 252.2 61.8 259.6 62.2 267 62.8 273.6 63.2 279 63.8 283 64.2 286.1 65 288.2 65.8 287.6 66.5 288.1 67.2 290.9 68 291.5 68.8 289.1 69.5 289.8 70.2 291.5 71 291.3 71.8 291.8 72.5 291.2 73.2 290.7 74 290.8 74.8 285.8 75.5 289.1 76.2 289.9 77 291.1 77.8 290.3 78.5 290.7 79.2 284.9 80 290.3 80.8 286.4 81.5 285.5 82.2 283.3 82.8 281.2 83.2 278.6 83.8 275.4 84.2 271.7 84.8 267.4 85.2 262.5 85.8 257 86.2 251.1 86.8 244.7 87.2 238.1 87.8 231.4 88.2 224.8 88.8 218.6 89.2 209.6 89.8 201.1 90.2 193.6 90.8 187.3 91.2 182.3 91.8 184 92.2 189.4 92.8 196.1 93.2 204.1 93.8 213.1 94.2 221.2 94.8 228.1 95.2 235.4 95.8 242.9 96.2 250.3 96.8 257.6 97.2 264.4 97.8 270.7 98.2 276.5 98.8 281.6 99.2 286.4 100 288.1 100.8 287.8 101.5 293.4 102.2 293 103 296.2 103.8 297.2 104.5 296.7 105.2 299.2 106 299.2 106.8 298.8 107.5 298 108.2 300.8 109 299.1 109.8 299.8 110.5 300.3 111.2 301.4 112 301.9 112.8 303.1 113.5 302.9 114.2 303.3 115 300.7 115.8 302.8 116.5 303.2 117.2 303.7 118 300.7 118.8 300.6 119.5 301.4 120.2 302.9 121 303 121.8 302.8 122.5 302.1 123.2 303.3 124 302.1 124.8 302.8 125.5 300 126.2 300 127 301.6 127.8 302.8 128.5 300.1 129.2 303.1 130 303.2 130.8 304.7 131.5 303.7 132.2 303.6 133 303.5 133.8 304.4 134.5 303.5 135.2 305 136 304.2 136.8 304.8 137.5 303.9 138.2 304.9 139 305 139.8 304.2 140.5 304.4 141.2 303.4 142 303.6 142.8 303 143.5 303.2 144.2 303.1 145 302.6 145.8 303.9 146.5 303.9 147.2 301.7 148 304.3 148.8 302.2 149.5 302.3 150.2 304.4 151 301.4 151.8 301.1 152.5 302.1 153.2 301.6 154 301.3 154.8 303.8 155.5 302.3 156.2 302.3 157 301 157.8 301.4 158.5 301.6 159.2 302.7 160 304.3 160.8 304.7 161.5 304.7 162.2 305.3 163 305.3 163.8 305.3 164.5 305.3 165.2 305.3 166 304.5 166.8 305 167.5 304.9" fill="none" stroke="#111" stroke-width="0.6" stroke-linejoin="round"/>
<path d="M79 305.3 79 300.4 79.2 300.3 79.5 300.2 79.8 300 80 299.8 80.2 299.6 80.5 299.3 80.8 299 81 298.7 81.2 298.2 81.5 297.7 81.8 297.2 82 296.5 82.2 295.7 82.5 294.9 82.8 293.9 83 292.8 83.2 291.6 83.5 290.3 83.8 288.8 84 287.1 84.2 285.3 84.5 283.4 84.8 281.2 85 278.9 85.2 276.5 85.5 273.8 85.8 271 86 268.1 86.2 265 86.5 261.7 86.8 258.4 87 255 87.2 251.5 87.5 247.9 87.8 244.3 88 240.8 88.2 237.2 88.5 233.8 88.8 230.4 89 227.2 89.2 224.2 89.5 221.3 89.8 218.7 90 216.4 90.2 214.4 90.5 212.6 90.8 211.3 91 210.2 91.2 209.6 91.5 209.3 91.8 209.4 92 209.9 92.2 210.7 92.5 212 92.8 213.6 93 215.5 93.2 217.7 93.5 220.2 93.8 223 94 226 94.2 229.2 94.5 232.6 94.8 236.1 95 239.7 95.2 243.4 95.5 247.1 95.8 250.8 96 254.4 96.2 258 96.5 261.5 96.8 265 97 268.3 97.2 271.4 97.5 274.5 97.8 277.3 98 280 98.2 282.5 98.5 284.9 98.8 287.1 99 289.1 99.2 290.9 99.5 292.6 99.8 294.1 100 295.5 100.2 296.7 100.5 297.8 100.8 298.8 101 299.7 101.2 300.5 101.5 301.2 101.8 301.7 102 302.3 102.2 302.7 102.5 303.1 102.8 303.4 103 303.7 103.2 304 103.5 304.2 103.8 304.4 104 304.5 104.2 304.6 104.5 304.7 104.8 304.8 105 304.9 105 305.3Z" fill="#fff" stroke="none"/>
<path d="M79 300.4 79.2 300.3 79.5 300.2 79.8 300 80 299.8 80.2 299.6 80.5 299.3 80.8 299 81 298.7 81.2 298.2 81.5 297.7 81.8 297.2 82 296.5 82.2 295.7 82.5 294.9 82.8 293.9 83 292.8 83.2 291.6 83.5 290.3 83.8 288.8 84 287.1 84.2 285.3 84.5 283.4 84.8 281.2 85 278.9 85.2 276.5 85.5 273.8 85.8 271 86 268.1 86.2 265 86.5 261.7 86.8 258.4 87 255 87.2 251.5 87.5 247.9 87.8 244.3 88 240.8 88.2 237.2 88.5 233.8 88.8 230.4 89 227.2 89.2 224.2 89.5 221.3 89.8 218.7 90 216.4 90.2 214.4 90.5 212.6 90.8 211.3 91 210.2 91.2 209.6 91.5 209.3 91.8 209.4 92 209.9 92.2 210.7 92.5 212 92.8 213.6 93 215.5 93.2 217.7 93.5 220.2 93.8 223 94 226 94.2 229.2 94.5 232.6 94.8 236.1 95 239.7 95.2 243.4 95.5 247.1 95.8 250.8 96 254.4 96.2 258 96.5 261.5 96.8 265 97 268.3 97.2 271.4 97.5 274.5 97.8 277.3 98 280 98.2 282.5 98.5 284.9 98.8 287.1 99 289.1 99.2 290.9 99.5 292.6 99.8 294.1 100 295.5 100.2 296.7 100.5 297.8 100.8 298.8 101 299.7 101.2 300.5 101.5 301.2 101.8 301.7 102 302.3 102.2 302.7 102.5 303.1 102.8 303.4 103 303.7 103.2 304 103.5 304.2 103.8 304.4 104 304.5 104.2 304.6 104.5 304.7 104.8 304.8 105 304.9" fill="none" stroke="#000" stroke-width="0.8" stroke-linejoin="round"/>
<path d="M52 305.3 52 305.2 52.2 305.2 52.5 305.2 52.8 305.1 53 305 53.2 304.8 53.5 304.6 53.8 304.3 54 303.9 54.2 303.3 54.5 302.6 54.8 301.6 55 300.4 55.2 298.8 55.5 296.9 55.8 294.6 56 291.9 56.2 288.8 56.5 285.3 56.8 281.5 57 277.4 57.2 273.1 57.5 268.7 57.8 264.5 58 260.5 58.2 256.9 58.5 253.8 58.8 251.5 59 250 59.2 249.3 59.5 249.6 59.8 250.8 60 252.8 60.2 255.6 60.5 259 60.8 262.8 61 267 61.2 271.3 61.5 275.7 61.8 279.9 62 283.8 62.2 287.5 62.5 290.7 62.8 293.6 63 296 63.2 298.1 63.5 299.8 63.8 301.2 64 302.2 64.2 303.1 64.5 303.7 64.8 304.2 65 304.5 65.2 304.8 65.5 304.9 65.8 305.1 66 305.1 66.2 305.2 66.5 305.2 66.5 305.3Z" fill="#fff" stroke="none"/>
<path d="M52 305.2 52.2 305.2 52.5 305.2 52.8 305.1 53 305 53.2 304.8 53.5 304.6 53.8 304.3 54 303.9 54.2 303.3 54.5 302.6 54.8 301.6 55 300.4 55.2 298.8 55.5 296.9 55.8 294.6 56 291.9 56.2 288.8 56.5 285.3 56.8 281.5 57 277.4 57.2 273.1 57.5 268.7 57.8 264.5 58 260.5 58.2 256.9 58.5 253.8 58.8 251.5 59 250 59.2 249.3 59.5 249.6 59.8 250.8 60 252.8 60.2 255.6 60.5 259 60.8 262.8 61 267 61.2 271.3 61.5 275.7 61.8 279.9 62 283.8 62.2 287.5 62.5 290.7 62.8 293.6 63 296 63.2 298.1 63.5 299.8 63.8 301.2 64 302.2 64.2 303.1 64.5 303.7 64.8 304.2 65 304.5 65.2 304.8 65.5 304.9 65.8 305.1 66 305.1 66.2 305.2 66.5 305.2" fill="none" stroke="#000" stroke-width="0.8" stroke-linejoin="round"/>
<path d="M45 305.3 45 305 45.2 304.9 45.5 304.7 45.8 304.4 46 304 46.2 303.4 46.5 302.7 46.8 301.7 47 300.6 47.2 299.3 47.5 297.7 47.8 296 48 294.2 48.2 292.4 48.5 290.6 48.8 289 49 287.6 49.2 286.6 49.5 286 49.8 285.8 50 286.1 50.2 286.9 50.5 288.1 50.8 289.6 51 291.3 51.2 293.1 51.5 294.9 51.8 296.7 52 298.4 52.2 299.8 52.5 301.1 52.8 302.1 53 303 53.2 303.6 53.5 304.1 53.8 304.5 54 304.8 54.2 305 54.5 305.1 54.5 305.3Z" fill="#10dede" stroke="none"/>
<path d="M45 305 45.2 304.9 45.5 304.7 45.8 304.4 46 304 46.2 303.4 46.5 302.7 46.8 301.7 47 300.6 47.2 299.3 47.5 297.7 47.8 296 48 294.2 48.2 292.4 48.5 290.6 48.8 289 49 287.6 49.2 286.6 49.5 286 49.8 285.8 50 286.1 50.2 286.9 50.5 288.1 50.8 289.6 51 291.3 51.2 293.1 51.5 294.9 51.8 296.7 52 298.4 52.2 299.8 52.5 301.1 52.8 302.1 53 303 53.2 303.6 53.5 304.1 53.8 304.5 54 304.8 54.2 305 54.5 305.1" fill="none" stroke="#033" stroke-width="0.6" stroke-linejoin="round"/>
<path d="M52.5 305.3 52.5 305.2 52.8 305.1 53 305 53.2 304.9 53.5 304.7 53.8 304.5 54 304.1 54.2 303.6 54.5 303 54.8 302.1 55 301.1 55.2 299.7 55.5 298.1 55.8 296.1 56 293.8 56.2 291.2 56.5 288.2 56.8 284.9 57 281.4 57.2 277.7 57.5 274 57.8 270.3 58 266.9 58.2 263.8 58.5 261.2 58.8 259.2 59 257.9 59.2 257.3 59.5 257.6 59.8 258.6 60 260.3 60.2 262.7 60.5 265.6 60.8 268.9 61 272.5 61.2 276.2 61.5 279.9 61.8 283.5 62 286.9 62.2 290 62.5 292.8 62.8 295.3 63 297.4 63.2 299.1 63.5 300.6 63.8 301.7 64 302.7 64.2 303.4 64.5 303.9 64.8 304.3 65 304.6 65.2 304.8 65.5 305 65.8 305.1 66 305.2 66.2 305.2 66.5 305.2 66.5 305.3Z" fill="#f80a0a" stroke="none"/>
<path d="M52.5 305.2 52.8 305.1 53 305 53.2 304.9 53.5 304.7 53.8 304.5 54 304.1 54.2 303.6 54.5 303 54.8 302.1 55 301.1 55.2 299.7 55.5 298.1 55.8 296.1 56 293.8 56.2 291.2 56.5 288.2 56.8 284.9 57 281.4 57.2 277.7 57.5 274 57.8 270.3 58 266.9 58.2 263.8 58.5 261.2 58.8 259.2 59 257.9 59.2 257.3 59.5 257.6 59.8 258.6 60 260.3 60.2 262.7 60.5 265.6 60.8 268.9 61 272.5 61.2 276.2 61.5 279.9 61.8 283.5 62 286.9 62.2 290 62.5 292.8 62.8 295.3 63 297.4 63.2 299.1 63.5 300.6 63.8 301.7 64 302.7 64.2 303.4 64.5 303.9 64.8 304.3 65 304.6 65.2 304.8 65.5 305 65.8 305.1 66 305.2 66.2 305.2 66.5 305.2" fill="none" stroke="#000" stroke-width="1.05" stroke-linejoin="round"/>
<path d="M79 305.3 79 304.9 79.2 304.8 79.5 304.7 79.8 304.6 80 304.5 80.2 304.3 80.5 304.1 80.8 303.8 81 303.5 81.2 303.2 81.5 302.8 81.8 302.4 82 301.8 82.2 301.2 82.5 300.5 82.8 299.8 83 298.9 83.2 297.9 83.5 296.7 83.8 295.5 84 294.1 84.2 292.6 84.5 290.9 84.8 289.1 85 287.1 85.2 285 85.5 282.7 85.8 280.2 86 277.6 86.2 274.8 86.5 271.9 86.8 268.9 87 265.8 87.2 262.6 87.5 259.3 87.8 255.9 88 252.5 88.2 249.2 88.5 245.8 88.8 242.5 89 239.3 89.2 236.2 89.5 233.3 89.8 230.6 90 228 90.2 225.7 90.5 223.7 90.8 222 91 220.6 91.2 219.5 91.5 218.8 91.8 218.4 92 218.3 92.2 218.6 92.5 219.3 92.8 220.3 93 221.7 93.2 223.4 93.5 225.3 93.8 227.6 94 230 94.2 232.7 94.5 235.6 94.8 238.7 95 241.9 95.2 245.1 95.5 248.5 95.8 251.9 96 255.2 96.2 258.6 96.5 261.9 96.8 265.1 97 268.3 97.2 271.3 97.5 274.3 97.8 277.1 98 279.7 98.2 282.2 98.5 284.5 98.8 286.7 99 288.7 99.2 290.6 99.5 292.3 99.8 293.8 100 295.2 100.2 296.5 100.5 297.7 100.8 298.7 101 299.6 101.2 300.4 101.5 301.1 101.8 301.7 102 302.3 102.2 302.7 102.5 303.1 102.8 303.5 103 303.8 103.2 304 103.5 304.3 103.8 304.4 104 304.6 104.2 304.7 104.5 304.8 104.8 304.9 105 305 105 305.3Z" fill="#f80a0a" stroke="none"/>
<path d="M79 304.9 79.2 304.8 79.5 304.7 79.8 304.6 80 304.5 80.2 304.3 80.5 304.1 80.8 303.8 81 303.5 81.2 303.2 81.5 302.8 81.8 302.4 82 301.8 82.2 301.2 82.5 300.5 82.8 299.8 83 298.9 83.2 297.9 83.5 296.7 83.8 295.5 84 294.1 84.2 292.6 84.5 290.9 84.8 289.1 85 287.1 85.2 285 85.5 282.7 85.8 280.2 86 277.6 86.2 274.8 86.5 271.9 86.8 268.9 87 265.8 87.2 262.6 87.5 259.3 87.8 255.9 88 252.5 88.2 249.2 88.5 245.8 88.8 242.5 89 239.3 89.2 236.2 89.5 233.3 89.8 230.6 90 228 90.2 225.7 90.5 223.7 90.8 222 91 220.6 91.2 219.5 91.5 218.8 91.8 218.4 92 218.3 92.2 218.6 92.5 219.3 92.8 220.3 93 221.7 93.2 223.4 93.5 225.3 93.8 227.6 94 230 94.2 232.7 94.5 235.6 94.8 238.7 95 241.9 95.2 245.1 95.5 248.5 95.8 251.9 96 255.2 96.2 258.6 96.5 261.9 96.8 265.1 97 268.3 97.2 271.3 97.5 274.3 97.8 277.1 98 279.7 98.2 282.2 98.5 284.5 98.8 286.7 99 288.7 99.2 290.6 99.5 292.3 99.8 293.8 100 295.2 100.2 296.5 100.5 297.7 100.8 298.7 101 299.6 101.2 300.4 101.5 301.1 101.8 301.7 102 302.3 102.2 302.7 102.5 303.1 102.8 303.5 103 303.8 103.2 304 103.5 304.3 103.8 304.4 104 304.6 104.2 304.7 104.5 304.8 104.8 304.9 105 305" fill="none" stroke="#000" stroke-width="1.05" stroke-linejoin="round"/>
<clipPath id="c4"><path d="M106 305.2 105.8 305.1 105.5 305.1 105.2 305.1 105 305 104.8 304.9 104.5 304.8 104.2 304.7 104 304.6 103.8 304.4 103.5 304.3 103.2 304 103 303.8 102.8 303.5 102.5 303.1 102.2 302.7 102 302.3 101.8 301.7 101.5 301.1 101.2 300.4 101 299.6 100.8 298.7 100.5 297.7 100.2 296.5 100 295.2 99.8 293.8 99.5 292.3 99.2 290.6 99 288.7 98.8 286.7 98.5 284.5 98.2 282.2 98 279.7 97.8 277.1 97.5 274.3 97.2 271.3 97 268.3 96.8 265.1 96.5 261.9 96.2 258.6 96 255.2 95.8 251.9 95.5 248.5 95.2 245.1 95 241.9 94.8 238.7 94.5 235.6 94.2 232.7 94 230 93.8 227.6 93.5 225.3 93.2 223.4 93 221.7 92.8 220.3 92.5 219.3 92.2 218.6 92 218.3 91.8 218.4 91.5 218.8 91.2 219.5 91 220.6 90.8 222 90.5 223.7 90.2 225.7 90 228 89.8 230.6 89.5 233.3 89.2 236.2 89 239.3 88.8 242.5 88.5 245.8 88.2 249.2 88 252.5 87.8 255.9 87.5 259.3 87.2 262.6 87 265.8 86.8 268.9 86.5 271.9 86.2 274.8 86 277.6 85.8 280.2 85.5 282.7 85.2 285 85 287.1 84.8 289.1 84.5 290.9 84.2 292.6 84 294.1 83.8 295.5 83.5 296.7 83.2 297.9 83 298.9 82.8 299.8 82.5 300.5 82.2 301.2 82 301.8 81.8 302.4 81.5 302.8 81.2 303.2 81 303.5 80.8 303.8 80.5 304.1 80.2 304.3 80 304.5 79.8 304.6 79.5 304.7 79.2 304.8 79 304.9 78.8 305 78.5 305.1 78.2 305.1 78 305.1 77.8 305.2 77.5 305.2 77.2 305.2 77 305.2 76.8 305.3 76.5 305.3 76.2 305.3 76 305.3 75.8 305.3 75.5 305.3 75.2 305.3 75 305.3 74.8 305.3 74.5 305.3 74.2 305.3 74 305.3 73.8 305.3 73.5 305.3 73.2 305.3 73 305.3 72.8 305.3 72.5 305.3 72.2 305.3 72 305.3 71.8 305.3 71.5 305.3 71.2 305.3 71 305.3 70.8 305.3 70.5 305.3 70.2 305.3 70 305.3 69.8 305.3 69.5 305.3 69.2 305.3 69 305.3 68.8 305.3 68.5 305.3 68.2 305.3 68 305.3 67.8 305.3 67.5 305.3 67.2 305.3 67 305.3 66.8 305.3 66.5 305.2 66.2 305.2 66 305.2 65.8 305.1 65.5 305 65.2 304.8 65 304.6 64.8 304.3 64.5 303.9 64.2 303.4 64 302.7 63.8 301.7 63.5 300.6 63.2 299.1 63 297.4 62.8 295.3 62.5 292.8 62.2 290 62 286.9 61.8 283.5 61.5 279.9 61.2 276.2 61 272.5 60.8 268.9 60.5 265.6 60.2 262.7 60 260.3 59.8 258.6 59.5 257.6 59.2 257.3 59 257.9 58.8 259.2 58.5 261.2 58.2 263.8 58 266.9 57.8 270.3 57.5 274 57.2 277.7 57 281.4 56.8 284.9 56.5 288.2 56.2 291.2 56 293.8 55.8 296.1 55.5 298.1 55.2 299.7 55 301.1 55 265.3 106 265.3Z"/></clipPath>
<path d="M55 305.3 55 304.9 55.2 304.8 55.5 304.7 55.8 304.5 56 304.4 56.2 304.2 56.5 304 56.8 303.7 57 303.4 57.2 303.1 57.5 302.7 57.8 302.3 58 301.8 58.2 301.3 58.5 300.7 58.8 300 59 299.4 59.2 298.7 59.5 298 59.8 297.3 60 296.6 60.2 296 60.5 295.3 60.8 294.7 61 294.2 61.2 293.7 61.5 293.3 61.8 292.9 62 292.6 62.2 292.3 62.5 292 62.8 291.8 63 291.6 63.2 291.5 63.5 291.3 63.8 291.2 64 291.1 64.2 291.1 64.5 291 64.8 291 65 290.9 65.2 290.9 65.5 290.8 65.8 290.8 66 290.8 66.2 290.8 66.5 290.8 66.8 290.8 67 290.7 67.2 290.7 67.5 290.7 67.8 290.7 68 290.7 68.2 290.7 68.5 290.7 68.8 290.7 69 290.7 69.2 290.7 69.5 290.7 69.8 290.7 70 290.7 70.2 290.7 70.5 290.7 70.8 290.7 71 290.7 71.2 290.7 71.5 290.7 71.8 290.7 72 290.7 72.2 290.7 72.5 290.7 72.8 290.7 73 290.7 73.2 290.7 73.5 290.7 73.8 290.7 74 290.7 74.2 290.7 74.5 290.7 74.8 290.7 75 290.7 75.2 290.7 75.5 290.7 75.8 290.7 76 290.7 76.2 290.7 76.5 290.7 76.8 290.7 77 290.7 77.2 290.7 77.5 290.7 77.8 290.7 78 290.8 78.2 290.8 78.5 290.8 78.8 290.8 79 290.8 79.2 290.8 79.5 290.8 79.8 290.8 80 290.8 80.2 290.8 80.5 290.8 80.8 290.8 81 290.8 81.2 290.8 81.5 290.9 81.8 290.9 82 290.9 82.2 290.9 82.5 290.9 82.8 290.9 83 291 83.2 291 83.5 291 83.8 291 84 291.1 84.2 291.1 84.5 291.1 84.8 291.2 85 291.2 85.2 291.2 85.5 291.3 85.8 291.3 86 291.4 86.2 291.4 86.5 291.5 86.8 291.6 87 291.6 87.2 291.7 87.5 291.8 87.8 291.9 88 292 88.2 292.1 88.5 292.2 88.8 292.3 89 292.4 89.2 292.6 89.5 292.7 89.8 292.9 90 293 90.2 293.2 90.5 293.4 90.8 293.5 91 293.7 91.2 294 91.5 294.2 91.8 294.4 92 294.6 92.2 294.9 92.5 295.1 92.8 295.4 93 295.7 93.2 295.9 93.5 296.2 93.8 296.5 94 296.8 94.2 297.1 94.5 297.4 94.8 297.7 95 298 95.2 298.3 95.5 298.6 95.8 298.9 96 299.2 96.2 299.5 96.5 299.8 96.8 300.1 97 300.3 97.2 300.6 97.5 300.9 97.8 301.1 98 301.4 98.2 301.6 98.5 301.8 98.8 302 99 302.3 99.2 302.5 99.5 302.6 99.8 302.8 100 303 100.2 303.1 100.5 303.3 100.8 303.4 101 303.6 101.2 303.7 101.5 303.8 101.8 303.9 102 304 102.2 304.1 102.5 304.2 102.8 304.3 103 304.4 103.2 304.4 103.5 304.5 103.8 304.6 104 304.6 104.2 304.7 104.5 304.7 104.8 304.8 105 304.8 105.2 304.8 105.5 304.9 105.8 304.9 106 304.9 106 305.3Z" fill="url(#hat)" clip-path="url(#c4)"/>
<path d="M55 304.9 55.2 304.8 55.5 304.7 55.8 304.5 56 304.4 56.2 304.2 56.5 304 56.8 303.7 57 303.4 57.2 303.1 57.5 302.7 57.8 302.3 58 301.8 58.2 301.3 58.5 300.7 58.8 300 59 299.4 59.2 298.7 59.5 298 59.8 297.3 60 296.6 60.2 296 60.5 295.3 60.8 294.7 61 294.2 61.2 293.7 61.5 293.3 61.8 292.9 62 292.6 62.2 292.3 62.5 292 62.8 291.8 63 291.6 63.2 291.5 63.5 291.3 63.8 291.2 64 291.1 64.2 291.1 64.5 291 64.8 291 65 290.9 65.2 290.9 65.5 290.8 65.8 290.8 66 290.8 66.2 290.8 66.5 290.8 66.8 290.8 67 290.7 67.2 290.7 67.5 290.7 67.8 290.7 68 290.7 68.2 290.7 68.5 290.7 68.8 290.7 69 290.7 69.2 290.7 69.5 290.7 69.8 290.7 70 290.7 70.2 290.7 70.5 290.7 70.8 290.7 71 290.7 71.2 290.7 71.5 290.7 71.8 290.7 72 290.7 72.2 290.7 72.5 290.7 72.8 290.7 73 290.7 73.2 290.7 73.5 290.7 73.8 290.7 74 290.7 74.2 290.7 74.5 290.7 74.8 290.7 75 290.7 75.2 290.7 75.5 290.7 75.8 290.7 76 290.7 76.2 290.7 76.5 290.7 76.8 290.7 77 290.7 77.2 290.7 77.5 290.7 77.8 290.7 78 290.8 78.2 290.8 78.5 290.8 78.8 290.8 79 290.8 79.2 290.8 79.5 290.8 79.8 290.8 80 290.8 80.2 290.8 80.5 290.8 80.8 290.8 81 290.8 81.2 290.8 81.5 290.9 81.8 290.9 82 290.9 82.2 290.9 82.5 290.9 82.8 290.9 83 291 83.2 291 83.5 291 83.8 291 84 291.1 84.2 291.1 84.5 291.1 84.8 291.2 85 291.2 85.2 291.2 85.5 291.3 85.8 291.3 86 291.4 86.2 291.4 86.5 291.5 86.8 291.6 87 291.6 87.2 291.7 87.5 291.8 87.8 291.9 88 292 88.2 292.1 88.5 292.2 88.8 292.3 89 292.4 89.2 292.6 89.5 292.7 89.8 292.9 90 293 90.2 293.2 90.5 293.4 90.8 293.5 91 293.7 91.2 294 91.5 294.2 91.8 294.4 92 294.6 92.2 294.9 92.5 295.1 92.8 295.4 93 295.7 93.2 295.9 93.5 296.2 93.8 296.5 94 296.8 94.2 297.1 94.5 297.4 94.8 297.7 95 298 95.2 298.3 95.5 298.6 95.8 298.9 96 299.2 96.2 299.5 96.5 299.8 96.8 300.1 97 300.3 97.2 300.6 97.5 300.9 97.8 301.1 98 301.4 98.2 301.6 98.5 301.8 98.8 302 99 302.3 99.2 302.5 99.5 302.6 99.8 302.8 100 303 100.2 303.1 100.5 303.3 100.8 303.4 101 303.6 101.2 303.7 101.5 303.8 101.8 303.9 102 304 102.2 304.1 102.5 304.2 102.8 304.3 103 304.4 103.2 304.4 103.5 304.5 103.8 304.6 104 304.6 104.2 304.7 104.5 304.7 104.8 304.8 105 304.8 105.2 304.8 105.5 304.9 105.8 304.9 106 304.9" fill="none" stroke="#101038" stroke-width="0.6"/>
<path d="M24.5 179V305.3" fill="none" stroke="#666" stroke-width="0.8"/>
<path d="M24.1 305.3H175" fill="none" stroke="#000" stroke-width="1.25"/>
<text x="24.5" y="313.8" font-size="4.6" font-family="Liberation Serif, serif" font-weight="bold" text-anchor="middle" fill="#000" stroke="#000" stroke-width="0.25" xml:space="preserve">0</text>
<text x="55.14" y="313.8" font-size="4.6" font-family="Liberation Serif, serif" font-weight="bold" text-anchor="middle" fill="#000" stroke="#000" stroke-width="0.25" xml:space="preserve">40</text>
<text x="85.78" y="313.8" font-size="4.6" font-family="Liberation Serif, serif" font-weight="bold" text-anchor="middle" fill="#000" stroke="#000" stroke-width="0.25" xml:space="preserve">80</text>
<text x="116.42" y="313.8" font-size="4.6" font-family="Liberation Serif, serif" font-weight="bold" text-anchor="middle" fill="#000" stroke="#000" stroke-width="0.25" xml:space="preserve">120</text>
<text x="147.06" y="313.8" font-size="4.6" font-family="Liberation Serif, serif" font-weight="bold" text-anchor="middle" fill="#000" stroke="#000" stroke-width="0.25" xml:space="preserve">160</text>
<text x="18.6" y="305.3" font-size="5.1" font-family="Liberation Serif, serif" font-weight="bold" text-anchor="middle" fill="#000" transform="rotate(-90 18.6 305.3)" stroke="#000" stroke-width="0.3" xml:space="preserve">0</text>
<text x="18.6" y="280.22" font-size="5.1" font-family="Liberation Serif, serif" font-weight="bold" text-anchor="middle" fill="#000" transform="rotate(-90 18.6 280.22)" stroke="#000" stroke-width="0.3" xml:space="preserve">60</text>
<text x="18.6" y="255.14" font-size="5.1" font-family="Liberation Serif, serif" font-weight="bold" text-anchor="middle" fill="#000" transform="rotate(-90 18.6 255.14)" stroke="#000" stroke-width="0.3" xml:space="preserve">120</text>
<text x="18.6" y="230.06" font-size="5.1" font-family="Liberation Serif, serif" font-weight="bold" text-anchor="middle" fill="#000" transform="rotate(-90 18.6 230.06)" stroke="#000" stroke-width="0.3" xml:space="preserve">180</text>
<text x="18.6" y="204.98" font-size="5.1" font-family="Liberation Serif, serif" font-weight="bold" text-anchor="middle" fill="#000" transform="rotate(-90 18.6 204.98)" stroke="#000" stroke-width="0.3" xml:space="preserve">240</text>
<path d="M24.5 305.3v3M30.63 305.3v1.9M36.76 305.3v1.9M42.88 305.3v1.9M49.01 305.3v1.9M55.14 305.3v3M61.27 305.3v1.9M67.4 305.3v1.9M73.52 305.3v1.9M79.65 305.3v1.9M85.78 305.3v3M91.91 305.3v1.9M98.04 305.3v1.9M104.16 305.3v1.9M110.29 305.3v1.9M116.42 305.3v3M122.55 305.3v1.9M128.68 305.3v1.9M134.8 305.3v1.9M140.93 305.3v1.9M147.06 305.3v3M153.19 305.3v1.9M159.32 305.3v1.9M165.44 305.3v1.9M171.57 305.3v1.9M24.5 305.3h-3M24.5 300.28h-1.9M24.5 295.27h-1.9M24.5 290.25h-1.9M24.5 285.24h-1.9M24.5 280.22h-3M24.5 275.2h-1.9M24.5 270.19h-1.9M24.5 265.17h-1.9M24.5 260.16h-1.9M24.5 255.14h-3M24.5 250.12h-1.9M24.5 245.11h-1.9M24.5 240.09h-1.9M24.5 235.08h-1.9M24.5 230.06h-3M24.5 225.04h-1.9M24.5 220.03h-1.9M24.5 215.01h-1.9M24.5 210h-1.9M24.5 204.98h-3M24.5 199.96h-1.9M24.5 194.95h-1.9M24.5 189.93h-1.9M24.5 184.92h-1.9M24.5 179.9h-1.9" fill="none" stroke="#222" stroke-width="0.7"/>
<text x="12" y="241.2" font-size="5.3" font-family="Liberation Serif, serif" font-weight="bold" text-anchor="middle" fill="#000" transform="rotate(-90 12 241.2)" stroke="#000" stroke-width="0.25" xml:space="preserve">Number</text>
<text x="97.3" y="319.9" font-size="5.7" font-family="Liberation Serif, serif" font-weight="bold" text-anchor="middle" fill="#0c1838" stroke="#0c1838" stroke-width="0.22" xml:space="preserve">Channels (PI-A)</text>
<rect x="28.2" y="184.9" width="5.3" height="4.2" fill="#10dede" stroke="#0a8a8a" stroke-width="0.3"/>
<text x="36" y="188.35" font-size="4.7" font-family="Liberation Serif, serif" font-weight="bold" text-anchor="start" fill="#000" stroke="#000" stroke-width="0.3" xml:space="preserve">Apoptosis</text>
<rect x="28.4" y="190.6" width="4.9" height="3.8" fill="#fb0606" stroke="#700" stroke-width="0.4"/>
<text x="36" y="193.85" font-size="4.7" font-family="Liberation Serif, serif" font-weight="bold" text-anchor="start" fill="#000" stroke="#000" stroke-width="0.3" xml:space="preserve">Dip G1</text>
<rect x="28.4" y="196.1" width="4.9" height="3.8" fill="#fb0606" stroke="#700" stroke-width="0.4"/>
<text x="36" y="199.35" font-size="4.7" font-family="Liberation Serif, serif" font-weight="bold" text-anchor="start" fill="#000" stroke="#000" stroke-width="0.3" xml:space="preserve">Dip G2</text>
<rect x="28.45" y="201.65" width="4.8" height="3.7" fill="url(#hatg)" stroke="#222" stroke-width="0.55"/>
<text x="36" y="204.85" font-size="4.7" font-family="Liberation Serif, serif" font-weight="bold" text-anchor="start" fill="#000" stroke="#000" stroke-width="0.3" xml:space="preserve">Dip S</text>
<text x="102" y="206.64" font-size="5.8" font-family="Liberation Serif, serif" font-weight="bold" text-anchor="start" fill="#000" textLength="42.7" lengthAdjust="spacing" stroke="#000" stroke-width="0.2" xml:space="preserve">Diploid: 100.00%</text>
<text x="102" y="213.36" font-size="5.8" font-family="Liberation Serif, serif" font-weight="bold" text-anchor="start" fill="#000" textLength="62.9" lengthAdjust="spacing" stroke="#000" stroke-width="0.2" xml:space="preserve">Dip G1: 15.12 % at 45.10</text>
<text x="102" y="220.08" font-size="5.8" font-family="Liberation Serif, serif" font-weight="bold" text-anchor="start" fill="#000" textLength="62.9" lengthAdjust="spacing" stroke="#000" stroke-width="0.2" xml:space="preserve">Dip G2: 52.47 % at 88.84</text>
<text x="102" y="226.8" font-size="5.8" font-family="Liberation Serif, serif" font-weight="bold" text-anchor="start" fill="#000" textLength="67.2" lengthAdjust="spacing" stroke="#000" stroke-width="0.2" xml:space="preserve">Dip S: 32.40% G2/G1: 1.97</text>
<text x="103.1" y="233.52" font-size="5.8" font-family="Liberation Serif, serif" font-weight="bold" text-anchor="start" fill="#000" textLength="26.9" lengthAdjust="spacing" stroke="#000" stroke-width="0.2" xml:space="preserve">%CV: 5.44</text>
<text x="100.7" y="240.24" font-size="5.8" font-family="Liberation Serif, serif" font-weight="bold" text-anchor="start" fill="#000" textLength="80.2" lengthAdjust="spacing" stroke="#000" stroke-width="0.2" xml:space="preserve">Apoptosis:  4.01 %   Mean: 33.84</text>
<path d="M59.6 305.5l-2.5 4.3h5z" fill="#000"/>
<path d="M91 305.5l-2.5 4.3h5z" fill="#000"/>
<text x="91.5" y="334.7" font-size="13.5" font-family="Liberation Serif, serif" font-weight="bold" text-anchor="middle" fill="#000" stroke="#000" stroke-width="0.15" xml:space="preserve">8j</text>
<path d="M232 303.1 232.8 302.9 233.5 302.6 234.2 302.8 235 299.1 235.8 300.2 236.5 301.9 237.2 300.8 238 298.2 238.8 300.1 239.5 299 240.2 302 241 301.9 241.8 299 242.5 295.6 243.2 297.6 244 295.1 244.8 290.7 245.5 284.5 246.2 271 246.8 259.3 247.2 245.9 247.8 231.9 248.2 218.4 248.8 205.1 249.2 191.2 249.8 181.6 250.2 184.4 250.8 195 251.2 208.7 251.8 219.8 252.2 232 252.8 243.9 253.2 254.7 253.8 263.7 254.2 268.8 254.8 267.6 255.2 276.2 255.8 282.2 256.5 283 257.2 281.2 258 283.4 258.8 284.1 259.5 283.9 260.2 285.3 261 284.4 261.8 285.4 262.5 283.5 263.2 285.2 264 284.2 264.8 286.4 265.5 285.9 266.2 284.3 267 283.8 267.8 283.7 268.5 283.7 269.2 285.3 270 284.4 270.8 284.6 271.5 283 272.2 283.1 273 282.9 273.8 285.7 274.5 282.6 275.2 282.8 276 286.5 276.8 284.7 277.5 283.3 278.2 282.6 279 284.6 279.8 285.1 280.5 284.8 281.2 281.2 282 283 282.8 279.9 283.5 279.5 284.2 275.3 284.8 273.1 285.2 270.8 285.8 268.3 286.2 265.8 286.8 263.3 287.2 257.9 287.8 252.4 288.2 253.6 288.8 256 289.2 255.9 289.8 256.1 290.2 256.9 290.8 254.8 291.2 253 291.8 258.8 292.2 265.9 292.8 269.6 293.2 273.2 293.8 276.7 294.2 280.1 295 283.4 295.8 291 296.5 291.8 297.2 295.9 298 296.6 298.8 298.9 299.5 301.6 300.2 299.5 301 301.1 301.8 302.6 302.5 302.5 303.2 300.7 304 300.9 304.8 301.6 305.5 302.2 306.2 301.5 307 301.6 307.8 299.9 308.5 302.7 309.2 300.3 310 300 310.8 302.4 311.5 299.8 312.2 300.5 313 299.9 313.8 301.9 314.5 301.6 315.2 301.6 316 299.7 316.8 301 317.5 301.7 318.2 301.5 319 301.9 319.8 302.5 320.5 302.3 321.2 299.6 322 301.4 322.8 298.9 323.5 301.3 324.2 300.8 325 299.5 325.8 300.4 326.5 299.3 327.2 297.2 328 297.9 328.8 298.7 329.5 299.9 330.2 299.2 331 299.2 331.8 300.7 332.5 300.2 333.2 302.5 334 300.3 334.8 301.3 335.5 300.4 336.2 300.9 337 302.1 337.8 302.8 338.5 300.3 339.2 302.7 340 301.8 340.8 302.1 341.5 302.3 342.2 301 343 300.4 343.8 302.4 344.5 301.3 345.2 302.3 346 301.5 346.8 302 347.5 302.9 348.2 303.3 349 303.3 349.8 302.3 350.5 303 351.2 303.3 352 302.4 352.8 302.2 353.5 303.1 354.2 303.3 355 303.3 355.8 303.3 356.5 303.3 357.2 303.3 358 303.3 358.8 303.3 359.5 303" fill="none" stroke="#111" stroke-width="0.6" stroke-linejoin="round"/>
<path d="M240 303.3 240 303.3 240.2 303.3 240.5 303.2 240.8 303.2 241 303.2 241.2 303.1 241.5 303.1 241.8 303 242 302.9 242.2 302.7 242.5 302.5 242.8 302.2 243 301.7 243.2 301.2 243.5 300.4 243.8 299.5 244 298.3 244.2 296.7 244.5 294.8 244.8 292.5 245 289.7 245.2 286.4 245.5 282.5 245.8 278 246 272.9 246.2 267.3 246.5 261.1 246.8 254.4 247 247.3 247.2 240 247.5 232.6 247.8 225.3 248 218.2 248.2 211.6 248.5 205.7 248.8 200.6 249 196.5 249.2 193.5 249.5 191.8 249.8 191.3 250 192.1 250.2 194.1 250.5 197.3 250.8 201.4 251 206.4 251.2 212 251.5 218.1 251.8 224.5 252 231 252.2 237.4 252.5 243.6 252.8 249.5 253 255 253.2 259.9 253.5 264.3 253.8 268.2 254 271.5 254.2 274.4 254.5 276.7 254.8 278.7 255 280.2 255.2 281.5 255.5 282.4 255.8 283.2 256 283.7 256.2 284.1 256.5 284.4 256.8 284.6 257 284.7 257.2 284.8 257.5 284.9 257.8 284.9 258 284.9 258.2 284.9 258.5 284.9 258.8 284.9 259 284.9 259.2 284.9 259.5 284.9 259.8 284.9 260 284.9 260.2 284.9 260.5 284.8 260.8 284.8 261 284.8 261.2 284.8 261.5 284.8 261.8 284.8 262 284.8 262.2 284.8 262.5 284.8 262.8 284.8 263 284.8 263.2 284.8 263.5 284.8 263.8 284.8 264 284.8 264.2 284.8 264.5 284.8 264.8 284.8 265 284.8 265.2 284.8 265.5 284.8 265.8 284.8 266 284.8 266.2 284.8 266.5 284.8 266.8 284.8 267 284.8 267.2 284.8 267.5 284.8 267.8 284.8 268 284.8 268.2 284.8 268.5 284.8 268.8 284.8 269 284.8 269.2 284.8 269.5 284.8 269.8 284.8 270 284.8 270.2 284.8 270.5 284.8 270.8 284.8 271 284.8 271.2 284.8 271.5 284.8 271.8 284.8 272 284.8 272.2 284.9 272.5 284.9 272.8 284.9 273 284.9 273.2 284.9 273.5 284.9 273.8 284.9 274 284.9 274.2 284.9 274.5 284.9 274.8 284.9 275 284.9 275.2 284.9 275.5 284.9 275.8 284.9 276 284.9 276.2 284.9 276.5 284.9 276.8 284.9 277 284.9 277.2 284.8 277.5 284.8 277.8 284.8 278 284.7 278.2 284.7 278.5 284.6 278.8 284.6 279 284.5 279.2 284.4 279.5 284.3 279.8 284.1 280 284 280.2 283.8 280.5 283.6 280.8 283.4 281 283.1 281.2 282.8 281.5 282.5 281.8 282.1 282 281.7 282.2 281.3 282.5 280.8 282.8 280.3 283 279.7 283.2 279.1 283.5 278.5 283.8 277.8 284 277.1 284.2 276.3 284.5 275.6 284.8 274.8 285 273.9 285.2 273.1 285.5 272.3 285.8 271.4 286 270.6 286.2 269.8 286.5 269 286.8 268.2 287 267.5 287.2 266.8 287.5 266.2 287.8 265.7 288 265.2 288.2 264.8 288.5 264.5 288.8 264.3 289 264.2 289.2 264.2 289.5 264.4 289.8 264.6 290 264.9 290.2 265.4 290.5 265.9 290.8 266.6 291 267.4 291.2 268.2 291.5 269.2 291.8 270.2 292 271.3 292.2 272.4 292.5 273.6 292.8 274.9 293 276.2 293.2 277.5 293.5 278.8 293.8 280.2 294 281.5 294.2 282.8 294.5 284.1 294.8 285.4 295 286.6 295.2 287.8 295.5 289 295.8 290.1 296 291.2 296.2 292.2 296.5 293.1 296.8 294 297 294.9 297.2 295.7 297.5 296.4 297.8 297.1 298 297.7 298.2 298.3 298.5 298.8 298.8 299.2 299 299.7 299.2 300.1 299.5 300.4 299.8 300.7 300 301 300.2 301.3 300.5 301.5 300.8 301.7 301 301.9 301.2 302 301.5 302.2 301.8 302.3 302 302.4 302.2 302.5 302.5 302.6 302.8 302.7 303 302.7 303.2 302.8 303.5 302.8 303.8 302.9 304 302.9 304 303.3Z" fill="#fff" stroke="none"/>
<path d="M240 303.3 240.2 303.3 240.5 303.2 240.8 303.2 241 303.2 241.2 303.1 241.5 303.1 241.8 303 242 302.9 242.2 302.7 242.5 302.5 242.8 302.2 243 301.7 243.2 301.2 243.5 300.4 243.8 299.5 244 298.3 244.2 296.7 244.5 294.8 244.8 292.5 245 289.7 245.2 286.4 245.5 282.5 245.8 278 246 272.9 246.2 267.3 246.5 261.1 246.8 254.4 247 247.3 247.2 240 247.5 232.6 247.8 225.3 248 218.2 248.2 211.6 248.5 205.7 248.8 200.6 249 196.5 249.2 193.5 249.5 191.8 249.8 191.3 250 192.1 250.2 194.1 250.5 197.3 250.8 201.4 251 206.4 251.2 212 251.5 218.1 251.8 224.5 252 231 252.2 237.4 252.5 243.6 252.8 249.5 253 255 253.2 259.9 253.5 264.3 253.8 268.2 254 271.5 254.2 274.4 254.5 276.7 254.8 278.7 255 280.2 255.2 281.5 255.5 282.4 255.8 283.2 256 283.7 256.2 284.1 256.5 284.4 256.8 284.6 257 284.7 257.2 284.8 257.5 284.9 257.8 284.9 258 284.9 258.2 284.9 258.5 284.9 258.8 284.9 259 284.9 259.2 284.9 259.5 284.9 259.8 284.9 260 284.9 260.2 284.9 260.5 284.8 260.8 284.8 261 284.8 261.2 284.8 261.5 284.8 261.8 284.8 262 284.8 262.2 284.8 262.5 284.8 262.8 284.8 263 284.8 263.2 284.8 263.5 284.8 263.8 284.8 264 284.8 264.2 284.8 264.5 284.8 264.8 284.8 265 284.8 265.2 284.8 265.5 284.8 265.8 284.8 266 284.8 266.2 284.8 266.5 284.8 266.8 284.8 267 284.8 267.2 284.8 267.5 284.8 267.8 284.8 268 284.8 268.2 284.8 268.5 284.8 268.8 284.8 269 284.8 269.2 284.8 269.5 284.8 269.8 284.8 270 284.8 270.2 284.8 270.5 284.8 270.8 284.8 271 284.8 271.2 284.8 271.5 284.8 271.8 284.8 272 284.8 272.2 284.9 272.5 284.9 272.8 284.9 273 284.9 273.2 284.9 273.5 284.9 273.8 284.9 274 284.9 274.2 284.9 274.5 284.9 274.8 284.9 275 284.9 275.2 284.9 275.5 284.9 275.8 284.9 276 284.9 276.2 284.9 276.5 284.9 276.8 284.9 277 284.9 277.2 284.8 277.5 284.8 277.8 284.8 278 284.7 278.2 284.7 278.5 284.6 278.8 284.6 279 284.5 279.2 284.4 279.5 284.3 279.8 284.1 280 284 280.2 283.8 280.5 283.6 280.8 283.4 281 283.1 281.2 282.8 281.5 282.5 281.8 282.1 282 281.7 282.2 281.3 282.5 280.8 282.8 280.3 283 279.7 283.2 279.1 283.5 278.5 283.8 277.8 284 277.1 284.2 276.3 284.5 275.6 284.8 274.8 285 273.9 285.2 273.1 285.5 272.3 285.8 271.4 286 270.6 286.2 269.8 286.5 269 286.8 268.2 287 267.5 287.2 266.8 287.5 266.2 287.8 265.7 288 265.2 288.2 264.8 288.5 264.5 288.8 264.3 289 264.2 289.2 264.2 289.5 264.4 289.8 264.6 290 264.9 290.2 265.4 290.5 265.9 290.8 266.6 291 267.4 291.2 268.2 291.5 269.2 291.8 270.2 292 271.3 292.2 272.4 292.5 273.6 292.8 274.9 293 276.2 293.2 277.5 293.5 278.8 293.8 280.2 294 281.5 294.2 282.8 294.5 284.1 294.8 285.4 295 286.6 295.2 287.8 295.5 289 295.8 290.1 296 291.2 296.2 292.2 296.5 293.1 296.8 294 297 294.9 297.2 295.7 297.5 296.4 297.8 297.1 298 297.7 298.2 298.3 298.5 298.8 298.8 299.2 299 299.7 299.2 300.1 299.5 300.4 299.8 300.7 300 301 300.2 301.3 300.5 301.5 300.8 301.7 301 301.9 301.2 302 301.5 302.2 301.8 302.3 302 302.4 302.2 302.5 302.5 302.6 302.8 302.7 303 302.7 303.2 302.8 303.5 302.8 303.8 302.9 304 302.9" fill="none" stroke="#000" stroke-width="1.1" stroke-linejoin="round"/>
<path d="M241.5 303.3 241.5 303.1 241.8 303.1 242 303 242.2 302.8 242.5 302.6 242.8 302.3 243 301.9 243.2 301.4 243.5 300.8 243.8 299.9 244 298.8 244.2 297.4 244.5 295.6 244.8 293.5 245 290.9 245.2 287.8 245.5 284.2 245.8 280.1 246 275.4 246.2 270.2 246.5 264.4 246.8 258.3 247 251.8 247.2 245.1 247.5 238.4 247.8 231.7 248 225.3 248.2 219.4 248.5 214.2 248.8 209.8 249 206.4 249.2 204.1 249.5 203 249.8 203.1 250 204.5 250.2 207 250.5 210.6 250.8 215.2 251 220.6 251.2 226.6 251.5 233 251.8 239.7 252 246.5 252.2 253.1 252.5 259.5 252.8 265.6 253 271.2 253.2 276.4 253.5 280.9 253.8 285 254 288.5 254.2 291.4 254.5 293.9 254.8 296 255 297.7 255.2 299 255.5 300.1 255.8 300.9 256 301.5 256.2 302 256.5 302.4 256.8 302.7 257 302.9 257.2 303 257.5 303.1 257.8 303.2 258 303.2 258 303.3Z" fill="#f80a0a" stroke="none"/>
<path d="M241.5 303.1 241.8 303.1 242 303 242.2 302.8 242.5 302.6 242.8 302.3 243 301.9 243.2 301.4 243.5 300.8 243.8 299.9 244 298.8 244.2 297.4 244.5 295.6 244.8 293.5 245 290.9 245.2 287.8 245.5 284.2 245.8 280.1 246 275.4 246.2 270.2 246.5 264.4 246.8 258.3 247 251.8 247.2 245.1 247.5 238.4 247.8 231.7 248 225.3 248.2 219.4 248.5 214.2 248.8 209.8 249 206.4 249.2 204.1 249.5 203 249.8 203.1 250 204.5 250.2 207 250.5 210.6 250.8 215.2 251 220.6 251.2 226.6 251.5 233 251.8 239.7 252 246.5 252.2 253.1 252.5 259.5 252.8 265.6 253 271.2 253.2 276.4 253.5 280.9 253.8 285 254 288.5 254.2 291.4 254.5 293.9 254.8 296 255 297.7 255.2 299 255.5 300.1 255.8 300.9 256 301.5 256.2 302 256.5 302.4 256.8 302.7 257 302.9 257.2 303 257.5 303.1 257.8 303.2 258 303.2" fill="none" stroke="#000" stroke-width="1.05" stroke-linejoin="round"/>
<path d="M276.5 303.3 276.5 303.2 276.8 303.2 277 303.2 277.2 303.1 277.5 303.1 277.8 303.1 278 303 278.2 302.9 278.5 302.9 278.8 302.8 279 302.7 279.2 302.6 279.5 302.4 279.8 302.3 280 302.1 280.2 301.9 280.5 301.7 280.8 301.4 281 301.1 281.2 300.8 281.5 300.4 281.8 300 282 299.6 282.2 299.1 282.5 298.5 282.8 297.9 283 297.3 283.2 296.6 283.5 295.8 283.8 295.1 284 294.2 284.2 293.3 284.5 292.4 284.8 291.5 285 290.5 285.2 289.4 285.5 288.4 285.8 287.3 286 286.3 286.2 285.2 286.5 284.2 286.8 283.1 287 282.1 287.2 281.2 287.5 280.3 287.8 279.4 288 278.6 288.2 277.9 288.5 277.3 288.8 276.7 289 276.3 289.2 276 289.5 275.7 289.8 275.6 290 275.6 290.2 275.7 290.5 275.9 290.8 276.2 291 276.7 291.2 277.2 291.5 277.8 291.8 278.5 292 279.3 292.2 280.1 292.5 281 292.8 281.9 293 282.9 293.2 284 293.5 285 293.8 286.1 294 287.1 294.2 288.2 294.5 289.2 294.8 290.3 295 291.3 295.2 292.2 295.5 293.2 295.8 294 296 294.9 296.2 295.7 296.5 296.4 296.8 297.1 297 297.8 297.2 298.4 297.5 298.9 297.8 299.5 298 299.9 298.2 300.3 298.5 300.7 298.8 301 299 301.4 299.2 301.6 299.5 301.9 299.8 302.1 300 302.2 300.2 302.4 300.5 302.5 300.8 302.7 301 302.8 301.2 302.9 301.5 302.9 301.8 303 302 303 302.2 303.1 302.5 303.1 302.8 303.2 303 303.2 303.2 303.2 303.5 303.2 303.5 303.3Z" fill="#f80a0a" stroke="none"/>
<path d="M276.5 303.2 276.8 303.2 277 303.2 277.2 303.1 277.5 303.1 277.8 303.1 278 303 278.2 302.9 278.5 302.9 278.8 302.8 279 302.7 279.2 302.6 279.5 302.4 279.8 302.3 280 302.1 280.2 301.9 280.5 301.7 280.8 301.4 281 301.1 281.2 300.8 281.5 300.4 281.8 300 282 299.6 282.2 299.1 282.5 298.5 282.8 297.9 283 297.3 283.2 296.6 283.5 295.8 283.8 295.1 284 294.2 284.2 293.3 284.5 292.4 284.8 291.5 285 290.5 285.2 289.4 285.5 288.4 285.8 287.3 286 286.3 286.2 285.2 286.5 284.2 286.8 283.1 287 282.1 287.2 281.2 287.5 280.3 287.8 279.4 288 278.6 288.2 277.9 288.5 277.3 288.8 276.7 289 276.3 289.2 276 289.5 275.7 289.8 275.6 290 275.6 290.2 275.7 290.5 275.9 290.8 276.2 291 276.7 291.2 277.2 291.5 277.8 291.8 278.5 292 279.3 292.2 280.1 292.5 281 292.8 281.9 293 282.9 293.2 284 293.5 285 293.8 286.1 294 287.1 294.2 288.2 294.5 289.2 294.8 290.3 295 291.3 295.2 292.2 295.5 293.2 295.8 294 296 294.9 296.2 295.7 296.5 296.4 296.8 297.1 297 297.8 297.2 298.4 297.5 298.9 297.8 299.5 298 299.9 298.2 300.3 298.5 300.7 298.8 301 299 301.4 299.2 301.6 299.5 301.9 299.8 302.1 300 302.2 300.2 302.4 300.5 302.5 300.8 302.7 301 302.8 301.2 302.9 301.5 302.9 301.8 303 302 303 302.2 303.1 302.5 303.1 302.8 303.2 303 303.2 303.2 303.2 303.5 303.2" fill="none" stroke="#000" stroke-width="1.05" stroke-linejoin="round"/>
<clipPath id="c5"><path d="M304 303.3 303.8 303.2 303.5 303.2 303.2 303.2 303 303.2 302.8 303.2 302.5 303.1 302.2 303.1 302 303 301.8 303 301.5 302.9 301.2 302.9 301 302.8 300.8 302.7 300.5 302.5 300.2 302.4 300 302.2 299.8 302.1 299.5 301.9 299.2 301.6 299 301.4 298.8 301 298.5 300.7 298.2 300.3 298 299.9 297.8 299.5 297.5 298.9 297.2 298.4 297 297.8 296.8 297.1 296.5 296.4 296.2 295.7 296 294.9 295.8 294 295.5 293.2 295.2 292.2 295 291.3 294.8 290.3 294.5 289.2 294.2 288.2 294 287.1 293.8 286.1 293.5 285 293.2 284 293 282.9 292.8 281.9 292.5 281 292.2 280.1 292 279.3 291.8 278.5 291.5 277.8 291.2 277.2 291 276.7 290.8 276.2 290.5 275.9 290.2 275.7 290 275.6 289.8 275.6 289.5 275.7 289.2 276 289 276.3 288.8 276.7 288.5 277.3 288.2 277.9 288 278.6 287.8 279.4 287.5 280.3 287.2 281.2 287 282.1 286.8 283.1 286.5 284.2 286.2 285.2 286 286.3 285.8 287.3 285.5 288.4 285.2 289.4 285 290.5 284.8 291.5 284.5 292.4 284.2 293.3 284 294.2 283.8 295.1 283.5 295.8 283.2 296.6 283 297.3 282.8 297.9 282.5 298.5 282.2 299.1 282 299.6 281.8 300 281.5 300.4 281.2 300.8 281 301.1 280.8 301.4 280.5 301.7 280.2 301.9 280 302.1 279.8 302.3 279.5 302.4 279.2 302.6 279 302.7 278.8 302.8 278.5 302.9 278.2 302.9 278 303 277.8 303.1 277.5 303.1 277.2 303.1 277 303.2 276.8 303.2 276.5 303.2 276.2 303.2 276 303.2 275.8 303.3 275.5 303.3 275.2 303.3 275 303.3 274.8 303.3 274.5 303.3 274.2 303.3 274 303.3 273.8 303.3 273.5 303.3 273.2 303.3 273 303.3 272.8 303.3 272.5 303.3 272.2 303.3 272 303.3 271.8 303.3 271.5 303.3 271.2 303.3 271 303.3 270.8 303.3 270.5 303.3 270.2 303.3 270 303.3 269.8 303.3 269.5 303.3 269.2 303.3 269 303.3 268.8 303.3 268.5 303.3 268.2 303.3 268 303.3 267.8 303.3 267.5 303.3 267.2 303.3 267 303.3 266.8 303.3 266.5 303.3 266.2 303.3 266 303.3 265.8 303.3 265.5 303.3 265.2 303.3 265 303.3 264.8 303.3 264.5 303.3 264.2 303.3 264 303.3 263.8 303.3 263.5 303.3 263.2 303.3 263 303.3 262.8 303.3 262.5 303.3 262.2 303.3 262 303.3 261.8 303.3 261.5 303.3 261.2 303.3 261 303.3 260.8 303.3 260.5 303.3 260.2 303.3 260 303.3 259.8 303.3 259.5 303.3 259.2 303.3 259 303.3 258.8 303.3 258.5 303.3 258.2 303.2 258 303.2 257.8 303.2 257.5 303.1 257.2 303 257 302.9 256.8 302.7 256.5 302.4 256.2 302 256 301.5 255.8 300.9 255.5 300.1 255.2 299 255 297.7 254.8 296 254.5 293.9 254.2 291.4 254 288.5 253.8 285 253.5 280.9 253.2 276.4 253 271.2 252.8 265.6 252.5 259.5 252.2 253.1 252 246.5 251.8 239.7 251.5 233 251.2 226.6 251 220.6 250.8 215.2 250.5 210.6 250.2 207 250 204.5 249.8 203.1 249.5 203 249.2 204.1 249 206.4 248.8 209.8 248.5 214.2 248.2 219.4 248 225.3 247.8 231.7 247.5 238.4 247.2 245.1 247 251.8 246.8 258.3 246.5 264.4 246.2 270.2 246 275.4 245.8 280.1 245.5 284.2 245.2 287.8 245 290.9 244.8 293.5 244.5 295.6 244.2 297.4 244 298.8 243.8 299.9 243.5 300.8 243.2 301.4 243 301.9 243 243.3 304 243.3Z"/></clipPath>
<path d="M243 303.3 243 303.2 243.2 303.2 243.5 303.1 243.8 303.1 244 303.1 244.2 303 244.5 303 244.8 302.9 245 302.9 245.2 302.8 245.5 302.7 245.8 302.6 246 302.5 246.2 302.4 246.5 302.3 246.8 302.1 247 301.9 247.2 301.7 247.5 301.4 247.8 301.2 248 300.8 248.2 300.5 248.5 300.1 248.8 299.7 249 299.2 249.2 298.7 249.5 298.1 249.8 297.5 250 296.9 250.2 296.2 250.5 295.5 250.8 294.8 251 294.1 251.2 293.3 251.5 292.6 251.8 291.9 252 291.2 252.2 290.6 252.5 290 252.8 289.4 253 288.9 253.2 288.4 253.5 288 253.8 287.6 254 287.3 254.2 286.9 254.5 286.7 254.8 286.4 255 286.2 255.2 286 255.5 285.8 255.8 285.7 256 285.6 256.2 285.5 256.5 285.4 256.8 285.3 257 285.2 257.2 285.2 257.5 285.1 257.8 285.1 258 285 258.2 285 258.5 285 258.8 284.9 259 284.9 259.2 284.9 259.5 284.9 259.8 284.9 260 284.9 260.2 284.9 260.5 284.9 260.8 284.8 261 284.8 261.2 284.8 261.5 284.8 261.8 284.8 262 284.8 262.2 284.8 262.5 284.8 262.8 284.8 263 284.8 263.2 284.8 263.5 284.8 263.8 284.8 264 284.8 264.2 284.8 264.5 284.8 264.8 284.8 265 284.8 265.2 284.8 265.5 284.8 265.8 284.8 266 284.8 266.2 284.8 266.5 284.8 266.8 284.8 267 284.8 267.2 284.8 267.5 284.8 267.8 284.8 268 284.8 268.2 284.8 268.5 284.8 268.8 284.8 269 284.8 269.2 284.8 269.5 284.8 269.8 284.8 270 284.8 270.2 284.8 270.5 284.8 270.8 284.8 271 284.8 271.2 284.8 271.5 284.8 271.8 284.8 272 284.8 272.2 284.9 272.5 284.9 272.8 284.9 273 284.9 273.2 284.9 273.5 284.9 273.8 284.9 274 284.9 274.2 284.9 274.5 284.9 274.8 284.9 275 284.9 275.2 284.9 275.5 284.9 275.8 285 276 285 276.2 285 276.5 285 276.8 285 277 285 277.2 285 277.5 285.1 277.8 285.1 278 285.1 278.2 285.1 278.5 285.2 278.8 285.2 279 285.2 279.2 285.3 279.5 285.3 279.8 285.3 280 285.4 280.2 285.4 280.5 285.5 280.8 285.5 281 285.6 281.2 285.6 281.5 285.7 281.8 285.8 282 285.8 282.2 285.9 282.5 286 282.8 286.1 283 286.2 283.2 286.3 283.5 286.4 283.8 286.5 284 286.7 284.2 286.8 284.5 286.9 284.8 287.1 285 287.3 285.2 287.4 285.5 287.6 285.8 287.8 286 288 286.2 288.2 286.5 288.4 286.8 288.7 287 288.9 287.2 289.2 287.5 289.4 287.8 289.7 288 290 288.2 290.3 288.5 290.6 288.8 290.9 289 291.2 289.2 291.6 289.5 291.9 289.8 292.3 290 292.6 290.2 293 290.5 293.3 290.8 293.7 291 294.1 291.2 294.4 291.5 294.8 291.8 295.1 292 295.5 292.2 295.8 292.5 296.2 292.8 296.5 293 296.9 293.2 297.2 293.5 297.5 293.8 297.8 294 298.1 294.2 298.4 294.5 298.7 294.8 298.9 295 299.2 295.2 299.4 295.5 299.7 295.8 299.9 296 300.1 296.2 300.3 296.5 300.5 296.8 300.7 297 300.8 297.2 301 297.5 301.2 297.8 301.3 298 301.4 298.2 301.6 298.5 301.7 298.8 301.8 299 301.9 299.2 302 299.5 302.1 299.8 302.2 300 302.3 300.2 302.3 300.5 302.4 300.8 302.5 301 302.5 301.2 302.6 301.5 302.6 301.8 302.7 302 302.7 302.2 302.8 302.5 302.8 302.8 302.8 303 302.9 303.2 302.9 303.5 302.9 303.8 303 304 303 304 303.3Z" fill="url(#hat)" clip-path="url(#c5)"/>
<path d="M243 303.2 243.2 303.2 243.5 303.1 243.8 303.1 244 303.1 244.2 303 244.5 303 244.8 302.9 245 302.9 245.2 302.8 245.5 302.7 245.8 302.6 246 302.5 246.2 302.4 246.5 302.3 246.8 302.1 247 301.9 247.2 301.7 247.5 301.4 247.8 301.2 248 300.8 248.2 300.5 248.5 300.1 248.8 299.7 249 299.2 249.2 298.7 249.5 298.1 249.8 297.5 250 296.9 250.2 296.2 250.5 295.5 250.8 294.8 251 294.1 251.2 293.3 251.5 292.6 251.8 291.9 252 291.2 252.2 290.6 252.5 290 252.8 289.4 253 288.9 253.2 288.4 253.5 288 253.8 287.6 254 287.3 254.2 286.9 254.5 286.7 254.8 286.4 255 286.2 255.2 286 255.5 285.8 255.8 285.7 256 285.6 256.2 285.5 256.5 285.4 256.8 285.3 257 285.2 257.2 285.2 257.5 285.1 257.8 285.1 258 285 258.2 285 258.5 285 258.8 284.9 259 284.9 259.2 284.9 259.5 284.9 259.8 284.9 260 284.9 260.2 284.9 260.5 284.9 260.8 284.8 261 284.8 261.2 284.8 261.5 284.8 261.8 284.8 262 284.8 262.2 284.8 262.5 284.8 262.8 284.8 263 284.8 263.2 284.8 263.5 284.8 263.8 284.8 264 284.8 264.2 284.8 264.5 284.8 264.8 284.8 265 284.8 265.2 284.8 265.5 284.8 265.8 284.8 266 284.8 266.2 284.8 266.5 284.8 266.8 284.8 267 284.8 267.2 284.8 267.5 284.8 267.8 284.8 268 284.8 268.2 284.8 268.5 284.8 268.8 284.8 269 284.8 269.2 284.8 269.5 284.8 269.8 284.8 270 284.8 270.2 284.8 270.5 284.8 270.8 284.8 271 284.8 271.2 284.8 271.5 284.8 271.8 284.8 272 284.8 272.2 284.9 272.5 284.9 272.8 284.9 273 284.9 273.2 284.9 273.5 284.9 273.8 284.9 274 284.9 274.2 284.9 274.5 284.9 274.8 284.9 275 284.9 275.2 284.9 275.5 284.9 275.8 285 276 285 276.2 285 276.5 285 276.8 285 277 285 277.2 285 277.5 285.1 277.8 285.1 278 285.1 278.2 285.1 278.5 285.2 278.8 285.2 279 285.2 279.2 285.3 279.5 285.3 279.8 285.3 280 285.4 280.2 285.4 280.5 285.5 280.8 285.5 281 285.6 281.2 285.6 281.5 285.7 281.8 285.8 282 285.8 282.2 285.9 282.5 286 282.8 286.1 283 286.2 283.2 286.3 283.5 286.4 283.8 286.5 284 286.7 284.2 286.8 284.5 286.9 284.8 287.1 285 287.3 285.2 287.4 285.5 287.6 285.8 287.8 286 288 286.2 288.2 286.5 288.4 286.8 288.7 287 288.9 287.2 289.2 287.5 289.4 287.8 289.7 288 290 288.2 290.3 288.5 290.6 288.8 290.9 289 291.2 289.2 291.6 289.5 291.9 289.8 292.3 290 292.6 290.2 293 290.5 293.3 290.8 293.7 291 294.1 291.2 294.4 291.5 294.8 291.8 295.1 292 295.5 292.2 295.8 292.5 296.2 292.8 296.5 293 296.9 293.2 297.2 293.5 297.5 293.8 297.8 294 298.1 294.2 298.4 294.5 298.7 294.8 298.9 295 299.2 295.2 299.4 295.5 299.7 295.8 299.9 296 300.1 296.2 300.3 296.5 300.5 296.8 300.7 297 300.8 297.2 301 297.5 301.2 297.8 301.3 298 301.4 298.2 301.6 298.5 301.7 298.8 301.8 299 301.9 299.2 302 299.5 302.1 299.8 302.2 300 302.3 300.2 302.3 300.5 302.4 300.8 302.5 301 302.5 301.2 302.6 301.5 302.6 301.8 302.7 302 302.7 302.2 302.8 302.5 302.8 302.8 302.8 303 302.9 303.2 302.9 303.5 302.9 303.8 303 304 303" fill="none" stroke="#101038" stroke-width="0.6"/>
<path d="M207.9 170V303.3" fill="none" stroke="#666" stroke-width="0.8"/>
<path d="M207.5 303.3H366.6" fill="none" stroke="#000" stroke-width="1.25"/>
<text x="207.9" y="314.2" font-size="4.6" font-family="Liberation Serif, serif" font-weight="bold" text-anchor="middle" fill="#000" stroke="#000" stroke-width="0.25" xml:space="preserve">0</text>
<text x="239.4" y="314.2" font-size="4.6" font-family="Liberation Serif, serif" font-weight="bold" text-anchor="middle" fill="#000" stroke="#000" stroke-width="0.25" xml:space="preserve">40</text>
<text x="270.9" y="314.2" font-size="4.6" font-family="Liberation Serif, serif" font-weight="bold" text-anchor="middle" fill="#000" stroke="#000" stroke-width="0.25" xml:space="preserve">80</text>
<text x="302.4" y="314.2" font-size="4.6" font-family="Liberation Serif, serif" font-weight="bold" text-anchor="middle" fill="#000" stroke="#000" stroke-width="0.25" xml:space="preserve">120</text>
<text x="333.9" y="314.2" font-size="4.6" font-family="Liberation Serif, serif" font-weight="bold" text-anchor="middle" fill="#000" stroke="#000" stroke-width="0.25" xml:space="preserve">160</text>
<text x="365.4" y="314.2" font-size="4.6" font-family="Liberation Serif, serif" font-weight="bold" text-anchor="middle" fill="#000" stroke="#000" stroke-width="0.25" xml:space="preserve">200</text>
<text x="201.9" y="303.3" font-size="5.3" font-family="Liberation Serif, serif" font-weight="bold" text-anchor="middle" fill="#000" transform="rotate(-90 201.9 303.3)" stroke="#000" stroke-width="0.3" xml:space="preserve">0</text>
<text x="201.9" y="273.8" font-size="5.3" font-family="Liberation Serif, serif" font-weight="bold" text-anchor="middle" fill="#000" transform="rotate(-90 201.9 273.8)" stroke="#000" stroke-width="0.3" xml:space="preserve">100</text>
<text x="201.9" y="244.3" font-size="5.3" font-family="Liberation Serif, serif" font-weight="bold" text-anchor="middle" fill="#000" transform="rotate(-90 201.9 244.3)" stroke="#000" stroke-width="0.3" xml:space="preserve">200</text>
<text x="201.9" y="214.8" font-size="5.3" font-family="Liberation Serif, serif" font-weight="bold" text-anchor="middle" fill="#000" transform="rotate(-90 201.9 214.8)" stroke="#000" stroke-width="0.3" xml:space="preserve">300</text>
<text x="201.9" y="185.3" font-size="5.3" font-family="Liberation Serif, serif" font-weight="bold" text-anchor="middle" fill="#000" transform="rotate(-90 201.9 185.3)" stroke="#000" stroke-width="0.3" xml:space="preserve">400</text>
<path d="M207.9 303.3v3M214.2 303.3v1.9M220.5 303.3v1.9M226.8 303.3v1.9M233.1 303.3v1.9M239.4 303.3v3M245.7 303.3v1.9M252 303.3v1.9M258.3 303.3v1.9M264.6 303.3v1.9M270.9 303.3v3M277.2 303.3v1.9M283.5 303.3v1.9M289.8 303.3v1.9M296.1 303.3v1.9M302.4 303.3v3M308.7 303.3v1.9M315 303.3v1.9M321.3 303.3v1.9M327.6 303.3v1.9M333.9 303.3v3M340.2 303.3v1.9M346.5 303.3v1.9M352.8 303.3v1.9M359.1 303.3v1.9M365.4 303.3v3M207.9 303.3h-3M207.9 297.4h-1.9M207.9 291.5h-1.9M207.9 285.6h-1.9M207.9 279.7h-1.9M207.9 273.8h-3M207.9 267.9h-1.9M207.9 262h-1.9M207.9 256.1h-1.9M207.9 250.2h-1.9M207.9 244.3h-3M207.9 238.4h-1.9M207.9 232.5h-1.9M207.9 226.6h-1.9M207.9 220.7h-1.9M207.9 214.8h-3M207.9 208.9h-1.9M207.9 203h-1.9M207.9 197.1h-1.9M207.9 191.2h-1.9M207.9 185.3h-3M207.9 179.4h-1.9M207.9 173.5h-1.9" fill="none" stroke="#222" stroke-width="0.7"/>
<text x="195.2" y="229.9" font-size="5.75" font-family="Liberation Serif, serif" font-weight="bold" text-anchor="middle" fill="#000" transform="rotate(-90 195.2 229.9)" stroke="#000" stroke-width="0.25" xml:space="preserve">Number</text>
<text x="284" y="320.3" font-size="6" font-family="Liberation Serif, serif" font-weight="bold" text-anchor="middle" fill="#0c1838" stroke="#0c1838" stroke-width="0.22" xml:space="preserve">Channels (PI-A)</text>
<rect x="212.5" y="173.9" width="4.7" height="3.9" fill="#fb0606" stroke="#700" stroke-width="0.4"/>
<text x="219.7" y="177.25" font-size="5" font-family="Liberation Serif, serif" font-weight="bold" text-anchor="start" fill="#000" stroke="#000" stroke-width="0.3" xml:space="preserve">Dip G1</text>
<rect x="212.5" y="179.9" width="4.7" height="3.9" fill="#fb0606" stroke="#700" stroke-width="0.4"/>
<text x="219.7" y="183.25" font-size="5" font-family="Liberation Serif, serif" font-weight="bold" text-anchor="start" fill="#000" stroke="#000" stroke-width="0.3" xml:space="preserve">Dip G2</text>
<rect x="212.55" y="185.95" width="4.6" height="3.8" fill="url(#hatg)" stroke="#222" stroke-width="0.55"/>
<text x="219.7" y="189.25" font-size="5" font-family="Liberation Serif, serif" font-weight="bold" text-anchor="start" fill="#000" stroke="#000" stroke-width="0.3" xml:space="preserve">Dip S</text>
<text x="280.9" y="198.11" font-size="6" font-family="Liberation Serif, serif" font-weight="bold" text-anchor="start" fill="#000" textLength="44.4" lengthAdjust="spacing" stroke="#000" stroke-width="0.2" xml:space="preserve">Diploid: 100.00%</text>
<text x="280.9" y="205.51" font-size="6" font-family="Liberation Serif, serif" font-weight="bold" text-anchor="start" fill="#000" textLength="65.7" lengthAdjust="spacing" stroke="#000" stroke-width="0.2" xml:space="preserve">Dip G1: 35.32 % at 52.60</text>
<text x="280.9" y="212.91" font-size="6" font-family="Liberation Serif, serif" font-weight="bold" text-anchor="start" fill="#000" textLength="68.4" lengthAdjust="spacing" stroke="#000" stroke-width="0.2" xml:space="preserve">Dip G2: 19.20 % at 103.62</text>
<text x="280.9" y="220.31" font-size="6" font-family="Liberation Serif, serif" font-weight="bold" text-anchor="start" fill="#000" textLength="70.5" lengthAdjust="spacing" stroke="#000" stroke-width="0.2" xml:space="preserve">Dip S: 45.84 % G2/G1: 1.97</text>
<text x="282.4" y="227.71" font-size="6" font-family="Liberation Serif, serif" font-weight="bold" text-anchor="start" fill="#000" textLength="27.9" lengthAdjust="spacing" stroke="#000" stroke-width="0.2" xml:space="preserve">%CV: 5.45</text>
<path d="M249.5 303.5l-2.5 4.3h5z" fill="#000"/>
<path d="M287.6 303.5l-2.5 4.3h5z" fill="#000"/>
<text x="292.8" y="333" font-size="13.8" font-family="Liberation Serif, serif" font-weight="normal" text-anchor="middle" fill="#000" stroke="#000" stroke-width="0.1" xml:space="preserve">Control (−)</text>
</g></svg>
</body></html>
